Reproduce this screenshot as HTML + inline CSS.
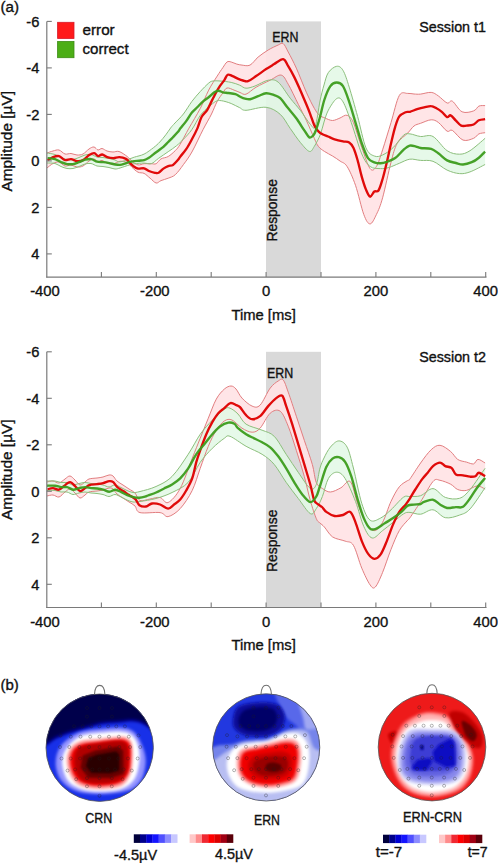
<!DOCTYPE html><html><head><meta charset="utf-8"><style>html,body{margin:0;padding:0;background:#fff;}svg{display:block;}text{stroke:#111;stroke-width:0.35px;}</style></head><body>
<svg width="498" height="863" viewBox="0 0 498 863">
<defs><filter id="b10" x="-30%" y="-30%" width="160%" height="160%"><feGaussianBlur stdDeviation="9"/></filter><filter id="b6" x="-30%" y="-30%" width="160%" height="160%"><feGaussianBlur stdDeviation="4.5"/></filter><filter id="b8" x="-30%" y="-30%" width="160%" height="160%"><feGaussianBlur stdDeviation="7"/></filter></defs>
<rect width="498" height="863" fill="#fff"/>
<text x="0.5" y="11.9" font-size="15.2" font-family="Liberation Sans, sans-serif" fill="#111">(a)</text>
<rect x="266" y="21.4" width="55" height="255.7" fill="#d9d9d9"/>
<path d="M47.0,153.0 C48.0,152.7 51.0,151.5 53.0,151.0 C55.0,150.5 57.0,149.5 59.0,150.0 C61.0,150.5 63.0,153.4 65.0,154.0 C67.0,154.6 69.0,153.3 71.0,153.5 C73.0,153.7 75.0,154.9 77.0,155.0 C79.0,155.1 81.0,155.0 83.0,154.0 C85.0,153.0 87.2,150.2 89.0,149.0 C90.8,147.8 92.5,146.8 94.0,147.0 C95.5,147.2 96.7,149.8 98.0,150.0 C99.3,150.2 100.5,148.3 102.0,148.5 C103.5,148.7 105.2,150.4 107.0,151.0 C108.8,151.6 111.0,151.9 113.0,152.0 C115.0,152.1 116.6,150.8 119.0,151.5 C121.4,152.2 125.0,154.9 127.2,156.5 C129.4,158.1 130.2,159.9 132.0,161.3 C133.8,162.7 136.0,164.5 138.0,164.9 C140.0,165.3 141.9,163.9 144.1,163.7 C146.3,163.5 149.3,163.7 151.3,163.7 C153.3,163.7 154.5,164.5 156.1,163.7 C157.7,162.9 159.0,160.1 161.0,158.9 C163.0,157.7 165.8,157.9 168.2,156.5 C170.6,155.1 173.4,152.5 175.4,150.5 C177.4,148.5 177.7,148.2 180.0,144.5 C182.3,140.8 185.6,134.1 189.0,128.1 C192.4,122.1 197.0,114.7 200.3,108.4 C203.6,102.1 205.9,95.5 208.7,90.1 C211.5,84.7 214.8,79.8 217.2,76.1 C219.5,72.4 221.2,70.0 222.8,67.7 C224.4,65.4 225.6,63.0 227.0,62.0 C228.4,61.0 229.6,61.6 231.2,62.0 C232.8,62.4 235.0,63.6 236.8,64.1 C238.6,64.6 239.8,64.9 242.0,65.1 C244.2,65.3 247.3,66.4 250.0,65.1 C252.7,63.8 255.1,59.6 258.1,57.1 C261.1,54.6 264.9,52.0 268.2,50.0 C271.5,48.0 275.7,46.1 278.2,45.0 C280.7,43.9 281.5,42.4 283.2,43.6 C284.9,44.8 286.0,47.9 288.2,52.0 C290.4,56.1 293.3,61.4 296.3,68.1 C299.3,74.8 303.3,85.5 306.3,92.2 C309.3,98.9 312.1,104.5 314.3,108.3 C316.5,112.1 317.6,113.7 319.4,115.3 C321.2,116.9 322.8,117.1 325.0,118.0 C327.2,118.9 330.0,120.5 332.5,120.5 C335.0,120.5 337.6,118.9 340.0,118.0 C342.4,117.1 344.9,114.5 347.1,115.3 C349.3,116.1 350.9,117.2 353.4,122.6 C355.8,128.0 359.0,140.0 361.8,147.7 C364.6,155.4 367.7,165.5 370.1,168.6 C372.5,171.7 374.3,169.6 376.4,166.5 C378.5,163.4 380.2,157.1 382.6,149.8 C385.0,142.5 388.2,131.7 391.0,122.6 C393.8,113.5 396.5,100.4 399.3,95.5 C402.1,90.6 405.2,93.7 407.7,93.4 C410.1,93.2 411.9,93.9 414.0,94.0 C416.1,94.1 417.7,94.4 420.6,94.1 C423.5,93.8 428.2,92.1 431.2,92.4 C434.1,92.7 435.6,94.1 438.3,95.9 C441.0,97.7 444.8,102.1 447.1,103.0 C449.5,103.9 449.9,99.7 452.4,101.2 C454.9,102.7 458.6,110.2 462.1,111.8 C465.6,113.4 470.8,111.9 473.6,110.9 C476.4,110.0 477.0,107.0 478.9,106.1 C480.8,105.2 484.1,105.7 485.1,105.6 L485.1,132.7 C484.1,132.9 480.8,133.0 478.9,133.9 C477.0,134.8 476.2,137.3 473.6,138.3 C471.0,139.3 466.5,141.4 463.0,140.1 C459.5,138.8 455.0,131.9 452.4,130.4 C449.8,128.9 449.5,132.5 447.1,131.2 C444.8,129.9 441.0,124.3 438.3,122.4 C435.6,120.5 434.1,119.7 431.2,119.8 C428.2,119.9 423.5,122.3 420.6,123.3 C417.7,124.3 416.1,124.4 414.0,126.0 C411.9,127.6 410.5,130.2 407.7,133.1 C404.9,136.0 400.0,138.6 397.2,143.5 C394.4,148.4 393.4,153.2 391.0,162.3 C388.6,171.4 385.0,189.1 382.6,197.8 C380.2,206.5 378.5,210.2 376.4,214.5 C374.3,218.8 372.2,223.9 370.1,223.9 C368.0,223.9 366.2,220.9 363.8,214.5 C361.4,208.1 358.3,193.3 355.5,185.3 C352.7,177.3 349.7,170.6 347.1,166.5 C344.5,162.4 342.4,162.8 340.0,161.0 C337.6,159.2 335.1,157.6 332.5,156.0 C329.9,154.4 326.8,153.0 324.4,151.4 C322.0,149.8 320.1,148.6 318.4,146.4 C316.7,144.2 316.3,142.8 314.3,138.4 C312.3,134.1 309.0,126.0 306.3,120.3 C303.6,114.6 301.3,110.3 298.3,104.3 C295.3,98.3 291.1,89.1 288.2,84.2 C285.3,79.3 284.2,75.8 281.2,75.1 C278.2,74.4 274.4,78.2 270.2,80.2 C266.0,82.2 260.1,84.9 256.1,87.2 C252.1,89.5 248.7,93.3 246.0,94.2 C243.3,95.1 242.0,93.2 240.0,92.5 C238.0,91.8 236.2,90.8 234.0,90.1 C231.8,89.3 228.9,87.5 227.0,88.0 C225.1,88.5 224.4,90.8 222.8,93.0 C221.2,95.2 219.1,97.9 217.2,101.4 C215.3,104.9 213.8,109.3 211.5,114.0 C209.2,118.7 206.4,123.2 203.1,129.5 C199.8,135.8 195.2,146.2 191.9,152.0 C188.6,157.8 186.2,160.8 183.4,164.6 C180.7,168.4 177.9,172.3 175.4,174.6 C172.9,176.9 170.6,177.2 168.2,178.2 C165.8,179.2 163.0,179.8 161.0,180.6 C159.0,181.4 157.9,183.4 156.1,183.0 C154.3,182.6 152.1,179.8 150.1,178.2 C148.1,176.6 146.1,174.4 144.1,173.4 C142.1,172.4 140.0,173.2 138.0,172.2 C136.0,171.2 133.8,168.9 132.0,167.3 C130.2,165.7 129.2,163.5 127.2,162.5 C125.2,161.5 122.4,161.1 120.0,161.3 C117.6,161.6 115.2,163.7 113.0,164.0 C110.8,164.3 108.8,163.6 107.0,163.0 C105.2,162.4 103.5,160.7 102.0,160.5 C100.5,160.3 99.3,162.2 98.0,162.0 C96.7,161.8 95.5,159.2 94.0,159.0 C92.5,158.8 90.8,159.8 89.0,161.0 C87.2,162.2 85.0,165.0 83.0,166.0 C81.0,167.0 79.0,167.2 77.0,167.0 C75.0,166.8 73.0,165.2 71.0,165.0 C69.0,164.8 67.0,166.5 65.0,166.0 C63.0,165.5 61.0,162.4 59.0,162.0 C57.0,161.6 55.0,162.5 53.0,163.5 C51.0,164.5 48.0,167.2 47.0,168.0 Z" fill="#ffe2e4" fill-opacity="0.9"/>
<path d="M47.0,153.0 C48.3,153.2 52.7,153.8 55.0,154.5 C57.3,155.2 59.0,156.7 61.0,157.5 C63.0,158.3 65.0,159.2 67.0,159.5 C69.0,159.8 71.0,159.8 73.0,159.5 C75.0,159.2 77.0,158.2 79.0,157.5 C81.0,156.8 83.0,155.5 85.0,155.0 C87.0,154.5 89.0,154.2 91.0,154.5 C93.0,154.8 95.0,156.5 97.0,157.0 C99.0,157.5 101.0,157.2 103.0,157.5 C105.0,157.8 107.0,158.1 109.0,158.5 C111.0,158.9 113.2,159.4 115.0,160.0 C116.8,160.6 117.6,162.1 120.0,161.9 C122.4,161.7 127.2,159.7 129.6,158.9 C132.0,158.1 132.1,157.9 134.5,157.1 C136.9,156.3 140.9,155.7 144.1,154.1 C147.3,152.5 151.1,149.5 153.7,147.5 C156.3,145.5 157.8,144.1 159.8,142.0 C161.8,139.9 164.0,137.1 165.8,134.8 C167.6,132.5 169.1,130.0 170.6,128.0 C172.1,126.0 172.9,125.3 175.0,123.0 C177.1,120.7 180.6,117.6 183.4,114.0 C186.2,110.4 189.1,105.2 191.9,101.4 C194.7,97.7 197.5,94.5 200.3,91.5 C203.1,88.5 206.6,84.8 208.7,83.1 C210.8,81.3 211.1,81.3 213.0,81.0 C214.9,80.7 217.0,80.8 220.0,81.0 C223.0,81.2 227.9,81.7 231.2,82.4 C234.5,83.1 237.2,84.2 239.7,85.2 C242.2,86.2 243.4,88.1 246.0,88.2 C248.6,88.3 251.3,87.3 255.0,86.0 C258.7,84.7 264.3,80.8 268.2,80.2 C272.1,79.6 274.5,79.2 278.2,82.2 C281.9,85.2 286.5,93.5 290.2,98.2 C293.9,102.9 296.9,106.0 300.3,110.3 C303.7,114.6 307.8,121.6 310.3,124.3 C312.8,127.0 313.7,130.2 315.3,126.3 C316.9,122.4 318.6,107.9 320.0,101.0 C321.4,94.1 322.6,89.8 324.0,85.0 C325.4,80.2 326.3,75.6 328.4,72.5 C330.5,69.4 334.3,66.6 336.7,66.3 C339.1,66.0 340.9,66.9 343.0,70.4 C345.1,73.9 346.8,79.4 349.2,87.1 C351.6,94.8 354.8,106.3 357.6,116.4 C360.4,126.5 363.1,141.1 365.9,147.7 C368.7,154.3 371.5,154.8 374.3,156.0 C377.1,157.2 379.5,156.4 382.6,155.0 C385.7,153.6 389.6,151.0 393.1,147.7 C396.6,144.4 400.7,137.5 403.5,135.2 C406.3,132.9 407.1,133.7 410.0,133.9 C412.9,134.1 416.8,136.1 420.6,136.5 C424.4,136.9 428.6,134.1 433.0,136.5 C437.4,138.9 442.7,147.8 447.1,150.7 C451.5,153.6 455.7,154.2 459.5,154.2 C463.3,154.2 465.7,153.3 470.0,150.7 C474.3,148.0 482.6,140.4 485.1,138.3 L485.1,164.5 C482.6,165.7 474.3,170.4 470.0,171.9 C465.7,173.4 463.3,173.9 459.5,173.6 C455.7,173.3 451.5,172.1 447.1,170.1 C442.7,168.1 437.4,162.9 433.0,161.3 C428.6,159.7 424.5,160.8 420.6,160.4 C416.7,160.1 413.4,158.7 409.8,159.2 C406.2,159.7 402.8,161.9 399.3,163.3 C395.8,164.7 392.0,166.6 388.9,167.5 C385.8,168.4 383.6,168.8 380.5,168.6 C377.4,168.4 373.2,168.9 370.1,166.5 C367.0,164.1 364.9,161.3 361.8,154.0 C358.7,146.7 354.4,131.3 351.3,122.6 C348.2,113.9 345.4,105.8 343.0,101.8 C340.6,97.8 339.1,97.2 336.7,98.6 C334.3,100.0 330.5,106.2 328.4,110.1 C326.3,114.0 325.3,118.0 324.0,122.0 C322.7,126.0 322.0,130.3 320.4,134.4 C318.8,138.5 316.1,143.6 314.3,146.4 C312.5,149.2 311.6,152.1 309.3,151.4 C307.0,150.7 303.5,146.2 300.3,142.4 C297.1,138.6 293.6,133.1 290.2,128.4 C286.8,123.7 284.2,117.8 280.2,114.3 C276.2,110.8 271.8,108.0 266.1,107.3 C260.4,106.6 250.4,110.2 246.0,110.3 C241.6,110.4 242.2,108.8 239.7,107.7 C237.2,106.6 234.2,104.7 231.2,103.5 C228.1,102.3 224.0,101.0 221.4,100.7 C218.8,100.4 217.9,100.4 215.8,101.4 C213.7,102.5 211.3,104.7 208.7,107.0 C206.1,109.3 203.1,111.7 200.3,115.4 C197.5,119.2 194.7,125.5 191.9,129.5 C189.1,133.5 186.0,136.6 183.4,139.3 C180.8,142.0 179.1,143.6 176.6,145.7 C174.1,147.8 171.2,149.6 168.2,151.7 C165.2,153.8 161.4,156.3 158.6,158.3 C155.8,160.3 153.7,162.9 151.3,163.7 C148.9,164.5 146.9,163.1 144.1,163.1 C141.3,163.1 136.9,163.4 134.5,163.7 C132.1,164.0 132.0,164.2 129.6,164.9 C127.2,165.6 122.4,167.3 120.0,168.0 C117.6,168.7 116.8,169.1 115.0,169.0 C113.2,168.9 111.0,167.9 109.0,167.5 C107.0,167.1 105.0,166.8 103.0,166.5 C101.0,166.2 99.0,166.5 97.0,166.0 C95.0,165.5 93.0,163.8 91.0,163.5 C89.0,163.2 87.0,163.5 85.0,164.0 C83.0,164.5 81.0,165.8 79.0,166.5 C77.0,167.2 75.0,168.2 73.0,168.5 C71.0,168.8 69.0,168.8 67.0,168.5 C65.0,168.2 63.0,167.3 61.0,166.5 C59.0,165.7 57.3,164.1 55.0,163.5 C52.7,162.9 48.3,163.1 47.0,163.0 Z" fill="#e2f8e6" fill-opacity="0.88"/>
<path d="M47.0,153.0 C48.0,152.7 51.0,151.5 53.0,151.0 C55.0,150.5 57.0,149.5 59.0,150.0 C61.0,150.5 63.0,153.4 65.0,154.0 C67.0,154.6 69.0,153.3 71.0,153.5 C73.0,153.7 75.0,154.9 77.0,155.0 C79.0,155.1 81.0,155.0 83.0,154.0 C85.0,153.0 87.2,150.2 89.0,149.0 C90.8,147.8 92.5,146.8 94.0,147.0 C95.5,147.2 96.7,149.8 98.0,150.0 C99.3,150.2 100.5,148.3 102.0,148.5 C103.5,148.7 105.2,150.4 107.0,151.0 C108.8,151.6 111.0,151.9 113.0,152.0 C115.0,152.1 116.6,150.8 119.0,151.5 C121.4,152.2 125.0,154.9 127.2,156.5 C129.4,158.1 130.2,159.9 132.0,161.3 C133.8,162.7 136.0,164.5 138.0,164.9 C140.0,165.3 141.9,163.9 144.1,163.7 C146.3,163.5 149.3,163.7 151.3,163.7 C153.3,163.7 154.5,164.5 156.1,163.7 C157.7,162.9 159.0,160.1 161.0,158.9 C163.0,157.7 165.8,157.9 168.2,156.5 C170.6,155.1 173.4,152.5 175.4,150.5 C177.4,148.5 177.7,148.2 180.0,144.5 C182.3,140.8 185.6,134.1 189.0,128.1 C192.4,122.1 197.0,114.7 200.3,108.4 C203.6,102.1 205.9,95.5 208.7,90.1 C211.5,84.7 214.8,79.8 217.2,76.1 C219.5,72.4 221.2,70.0 222.8,67.7 C224.4,65.4 225.6,63.0 227.0,62.0 C228.4,61.0 229.6,61.6 231.2,62.0 C232.8,62.4 235.0,63.6 236.8,64.1 C238.6,64.6 239.8,64.9 242.0,65.1 C244.2,65.3 247.3,66.4 250.0,65.1 C252.7,63.8 255.1,59.6 258.1,57.1 C261.1,54.6 264.9,52.0 268.2,50.0 C271.5,48.0 275.7,46.1 278.2,45.0 C280.7,43.9 281.5,42.4 283.2,43.6 C284.9,44.8 286.0,47.9 288.2,52.0 C290.4,56.1 293.3,61.4 296.3,68.1 C299.3,74.8 303.3,85.5 306.3,92.2 C309.3,98.9 312.1,104.5 314.3,108.3 C316.5,112.1 317.6,113.7 319.4,115.3 C321.2,116.9 322.8,117.1 325.0,118.0 C327.2,118.9 330.0,120.5 332.5,120.5 C335.0,120.5 337.6,118.9 340.0,118.0 C342.4,117.1 344.9,114.5 347.1,115.3 C349.3,116.1 350.9,117.2 353.4,122.6 C355.8,128.0 359.0,140.0 361.8,147.7 C364.6,155.4 367.7,165.5 370.1,168.6 C372.5,171.7 374.3,169.6 376.4,166.5 C378.5,163.4 380.2,157.1 382.6,149.8 C385.0,142.5 388.2,131.7 391.0,122.6 C393.8,113.5 396.5,100.4 399.3,95.5 C402.1,90.6 405.2,93.7 407.7,93.4 C410.1,93.2 411.9,93.9 414.0,94.0 C416.1,94.1 417.7,94.4 420.6,94.1 C423.5,93.8 428.2,92.1 431.2,92.4 C434.1,92.7 435.6,94.1 438.3,95.9 C441.0,97.7 444.8,102.1 447.1,103.0 C449.5,103.9 449.9,99.7 452.4,101.2 C454.9,102.7 458.6,110.2 462.1,111.8 C465.6,113.4 470.8,111.9 473.6,110.9 C476.4,110.0 477.0,107.0 478.9,106.1 C480.8,105.2 484.1,105.7 485.1,105.6" fill="none" stroke="#e27e80" stroke-width="1"/>
<path d="M47.0,168.0 C48.0,167.2 51.0,164.5 53.0,163.5 C55.0,162.5 57.0,161.6 59.0,162.0 C61.0,162.4 63.0,165.5 65.0,166.0 C67.0,166.5 69.0,164.8 71.0,165.0 C73.0,165.2 75.0,166.8 77.0,167.0 C79.0,167.2 81.0,167.0 83.0,166.0 C85.0,165.0 87.2,162.2 89.0,161.0 C90.8,159.8 92.5,158.8 94.0,159.0 C95.5,159.2 96.7,161.8 98.0,162.0 C99.3,162.2 100.5,160.3 102.0,160.5 C103.5,160.7 105.2,162.4 107.0,163.0 C108.8,163.6 110.8,164.3 113.0,164.0 C115.2,163.7 117.6,161.6 120.0,161.3 C122.4,161.1 125.2,161.5 127.2,162.5 C129.2,163.5 130.2,165.7 132.0,167.3 C133.8,168.9 136.0,171.2 138.0,172.2 C140.0,173.2 142.1,172.4 144.1,173.4 C146.1,174.4 148.1,176.6 150.1,178.2 C152.1,179.8 154.3,182.6 156.1,183.0 C157.9,183.4 159.0,181.4 161.0,180.6 C163.0,179.8 165.8,179.2 168.2,178.2 C170.6,177.2 172.9,176.9 175.4,174.6 C177.9,172.3 180.7,168.4 183.4,164.6 C186.2,160.8 188.6,157.8 191.9,152.0 C195.2,146.2 199.8,135.8 203.1,129.5 C206.4,123.2 209.2,118.7 211.5,114.0 C213.8,109.3 215.3,104.9 217.2,101.4 C219.1,97.9 221.2,95.2 222.8,93.0 C224.4,90.8 225.1,88.5 227.0,88.0 C228.9,87.5 231.8,89.3 234.0,90.1 C236.2,90.8 238.0,91.8 240.0,92.5 C242.0,93.2 243.3,95.1 246.0,94.2 C248.7,93.3 252.1,89.5 256.1,87.2 C260.1,84.9 266.0,82.2 270.2,80.2 C274.4,78.2 278.2,74.4 281.2,75.1 C284.2,75.8 285.3,79.3 288.2,84.2 C291.1,89.1 295.3,98.3 298.3,104.3 C301.3,110.3 303.6,114.6 306.3,120.3 C309.0,126.0 312.3,134.1 314.3,138.4 C316.3,142.8 316.7,144.2 318.4,146.4 C320.1,148.6 322.0,149.8 324.4,151.4 C326.8,153.0 329.9,154.4 332.5,156.0 C335.1,157.6 337.6,159.2 340.0,161.0 C342.4,162.8 344.5,162.4 347.1,166.5 C349.7,170.6 352.7,177.3 355.5,185.3 C358.3,193.3 361.4,208.1 363.8,214.5 C366.2,220.9 368.0,223.9 370.1,223.9 C372.2,223.9 374.3,218.8 376.4,214.5 C378.5,210.2 380.2,206.5 382.6,197.8 C385.0,189.1 388.6,171.4 391.0,162.3 C393.4,153.2 394.4,148.4 397.2,143.5 C400.0,138.6 404.9,136.0 407.7,133.1 C410.5,130.2 411.9,127.6 414.0,126.0 C416.1,124.4 417.7,124.3 420.6,123.3 C423.5,122.3 428.2,119.9 431.2,119.8 C434.1,119.7 435.6,120.5 438.3,122.4 C441.0,124.3 444.8,129.9 447.1,131.2 C449.5,132.5 449.8,128.9 452.4,130.4 C455.0,131.9 459.5,138.8 463.0,140.1 C466.5,141.4 471.0,139.3 473.6,138.3 C476.2,137.3 477.0,134.8 478.9,133.9 C480.8,133.0 484.1,132.9 485.1,132.7" fill="none" stroke="#e27e80" stroke-width="1"/>
<path d="M47.0,153.0 C48.3,153.2 52.7,153.8 55.0,154.5 C57.3,155.2 59.0,156.7 61.0,157.5 C63.0,158.3 65.0,159.2 67.0,159.5 C69.0,159.8 71.0,159.8 73.0,159.5 C75.0,159.2 77.0,158.2 79.0,157.5 C81.0,156.8 83.0,155.5 85.0,155.0 C87.0,154.5 89.0,154.2 91.0,154.5 C93.0,154.8 95.0,156.5 97.0,157.0 C99.0,157.5 101.0,157.2 103.0,157.5 C105.0,157.8 107.0,158.1 109.0,158.5 C111.0,158.9 113.2,159.4 115.0,160.0 C116.8,160.6 117.6,162.1 120.0,161.9 C122.4,161.7 127.2,159.7 129.6,158.9 C132.0,158.1 132.1,157.9 134.5,157.1 C136.9,156.3 140.9,155.7 144.1,154.1 C147.3,152.5 151.1,149.5 153.7,147.5 C156.3,145.5 157.8,144.1 159.8,142.0 C161.8,139.9 164.0,137.1 165.8,134.8 C167.6,132.5 169.1,130.0 170.6,128.0 C172.1,126.0 172.9,125.3 175.0,123.0 C177.1,120.7 180.6,117.6 183.4,114.0 C186.2,110.4 189.1,105.2 191.9,101.4 C194.7,97.7 197.5,94.5 200.3,91.5 C203.1,88.5 206.6,84.8 208.7,83.1 C210.8,81.3 211.1,81.3 213.0,81.0 C214.9,80.7 217.0,80.8 220.0,81.0 C223.0,81.2 227.9,81.7 231.2,82.4 C234.5,83.1 237.2,84.2 239.7,85.2 C242.2,86.2 243.4,88.1 246.0,88.2 C248.6,88.3 251.3,87.3 255.0,86.0 C258.7,84.7 264.3,80.8 268.2,80.2 C272.1,79.6 274.5,79.2 278.2,82.2 C281.9,85.2 286.5,93.5 290.2,98.2 C293.9,102.9 296.9,106.0 300.3,110.3 C303.7,114.6 307.8,121.6 310.3,124.3 C312.8,127.0 313.7,130.2 315.3,126.3 C316.9,122.4 318.6,107.9 320.0,101.0 C321.4,94.1 322.6,89.8 324.0,85.0 C325.4,80.2 326.3,75.6 328.4,72.5 C330.5,69.4 334.3,66.6 336.7,66.3 C339.1,66.0 340.9,66.9 343.0,70.4 C345.1,73.9 346.8,79.4 349.2,87.1 C351.6,94.8 354.8,106.3 357.6,116.4 C360.4,126.5 363.1,141.1 365.9,147.7 C368.7,154.3 371.5,154.8 374.3,156.0 C377.1,157.2 379.5,156.4 382.6,155.0 C385.7,153.6 389.6,151.0 393.1,147.7 C396.6,144.4 400.7,137.5 403.5,135.2 C406.3,132.9 407.1,133.7 410.0,133.9 C412.9,134.1 416.8,136.1 420.6,136.5 C424.4,136.9 428.6,134.1 433.0,136.5 C437.4,138.9 442.7,147.8 447.1,150.7 C451.5,153.6 455.7,154.2 459.5,154.2 C463.3,154.2 465.7,153.3 470.0,150.7 C474.3,148.0 482.6,140.4 485.1,138.3" fill="none" stroke="#8cbf7c" stroke-width="1"/>
<path d="M47.0,163.0 C48.3,163.1 52.7,162.9 55.0,163.5 C57.3,164.1 59.0,165.7 61.0,166.5 C63.0,167.3 65.0,168.2 67.0,168.5 C69.0,168.8 71.0,168.8 73.0,168.5 C75.0,168.2 77.0,167.2 79.0,166.5 C81.0,165.8 83.0,164.5 85.0,164.0 C87.0,163.5 89.0,163.2 91.0,163.5 C93.0,163.8 95.0,165.5 97.0,166.0 C99.0,166.5 101.0,166.2 103.0,166.5 C105.0,166.8 107.0,167.1 109.0,167.5 C111.0,167.9 113.2,168.9 115.0,169.0 C116.8,169.1 117.6,168.7 120.0,168.0 C122.4,167.3 127.2,165.6 129.6,164.9 C132.0,164.2 132.1,164.0 134.5,163.7 C136.9,163.4 141.3,163.1 144.1,163.1 C146.9,163.1 148.9,164.5 151.3,163.7 C153.7,162.9 155.8,160.3 158.6,158.3 C161.4,156.3 165.2,153.8 168.2,151.7 C171.2,149.6 174.1,147.8 176.6,145.7 C179.1,143.6 180.8,142.0 183.4,139.3 C186.0,136.6 189.1,133.5 191.9,129.5 C194.7,125.5 197.5,119.2 200.3,115.4 C203.1,111.7 206.1,109.3 208.7,107.0 C211.3,104.7 213.7,102.5 215.8,101.4 C217.9,100.4 218.8,100.4 221.4,100.7 C224.0,101.0 228.1,102.3 231.2,103.5 C234.2,104.7 237.2,106.6 239.7,107.7 C242.2,108.8 241.6,110.4 246.0,110.3 C250.4,110.2 260.4,106.6 266.1,107.3 C271.8,108.0 276.2,110.8 280.2,114.3 C284.2,117.8 286.8,123.7 290.2,128.4 C293.6,133.1 297.1,138.6 300.3,142.4 C303.5,146.2 307.0,150.7 309.3,151.4 C311.6,152.1 312.5,149.2 314.3,146.4 C316.1,143.6 318.8,138.5 320.4,134.4 C322.0,130.3 322.7,126.0 324.0,122.0 C325.3,118.0 326.3,114.0 328.4,110.1 C330.5,106.2 334.3,100.0 336.7,98.6 C339.1,97.2 340.6,97.8 343.0,101.8 C345.4,105.8 348.2,113.9 351.3,122.6 C354.4,131.3 358.7,146.7 361.8,154.0 C364.9,161.3 367.0,164.1 370.1,166.5 C373.2,168.9 377.4,168.4 380.5,168.6 C383.6,168.8 385.8,168.4 388.9,167.5 C392.0,166.6 395.8,164.7 399.3,163.3 C402.8,161.9 406.2,159.7 409.8,159.2 C413.4,158.7 416.7,160.1 420.6,160.4 C424.5,160.8 428.6,159.7 433.0,161.3 C437.4,162.9 442.7,168.1 447.1,170.1 C451.5,172.1 455.7,173.3 459.5,173.6 C463.3,173.9 465.7,173.4 470.0,171.9 C474.3,170.4 482.6,165.7 485.1,164.5" fill="none" stroke="#8cbf7c" stroke-width="1"/>
<path d="M47.5,160.3 C48.4,159.8 51.1,157.8 53.0,157.1 C54.9,156.4 57.0,155.6 59.0,156.1 C61.0,156.6 63.0,159.6 65.0,160.1 C67.0,160.6 69.0,158.9 71.0,159.1 C73.0,159.3 75.0,160.9 77.0,161.1 C79.0,161.3 81.0,161.1 83.0,160.1 C85.0,159.1 87.3,156.3 89.2,155.1 C91.1,153.9 92.7,152.9 94.2,153.1 C95.7,153.3 96.9,155.9 98.2,156.1 C99.5,156.3 100.7,154.3 102.2,154.5 C103.7,154.7 105.4,156.5 107.2,157.1 C109.0,157.7 111.3,158.1 113.3,158.1 C115.3,158.1 117.2,157.0 119.3,157.1 C121.4,157.2 124.3,158.0 126.0,158.9 C127.7,159.8 128.4,161.3 129.6,162.5 C130.8,163.7 131.9,165.1 133.3,166.1 C134.7,167.1 136.2,168.2 138.0,168.6 C139.8,169.0 142.3,167.9 144.1,168.3 C145.9,168.7 147.1,170.2 148.9,171.0 C150.7,171.8 153.3,172.5 154.9,172.8 C156.5,173.1 157.2,173.5 158.6,172.8 C160.0,172.1 161.8,169.7 163.4,168.6 C165.0,167.5 166.6,166.7 168.2,166.1 C169.8,165.5 171.4,165.9 173.0,164.9 C174.6,163.9 176.5,161.6 177.8,160.1 C179.1,158.6 179.2,158.0 180.6,156.2 C182.0,154.4 184.3,152.0 186.2,149.2 C188.1,146.4 190.0,142.8 191.9,139.3 C193.8,135.8 195.9,131.8 197.5,128.1 C199.1,124.3 200.1,119.8 201.7,116.8 C203.3,113.8 205.7,112.4 207.3,109.8 C208.9,107.2 210.1,104.2 211.5,101.4 C212.9,98.6 214.4,95.6 215.8,93.0 C217.2,90.4 218.6,88.0 220.0,85.9 C221.4,83.8 222.9,82.2 224.2,80.3 C225.5,78.4 226.3,75.4 227.7,74.7 C229.1,74.0 230.8,75.4 232.6,76.1 C234.4,76.8 236.6,78.2 238.3,78.9 C240.0,79.6 241.4,80.1 243.0,80.5 C244.6,80.9 245.8,81.9 248.0,81.2 C250.2,80.5 253.1,78.1 256.1,76.1 C259.1,74.1 263.1,71.1 266.1,69.1 C269.1,67.1 271.4,65.8 274.2,64.1 C277.0,62.4 280.9,58.8 283.2,59.1 C285.5,59.4 286.3,63.1 288.2,66.1 C290.1,69.1 292.3,73.1 294.3,77.1 C296.3,81.1 298.3,85.7 300.3,90.2 C302.3,94.7 304.6,100.3 306.3,104.3 C308.0,108.3 309.0,110.8 310.3,114.3 C311.6,117.8 313.0,122.4 314.3,125.3 C315.6,128.2 316.9,129.9 318.4,131.4 C319.8,132.9 321.4,133.7 323.0,134.5 C324.6,135.3 326.1,135.7 328.0,136.5 C329.9,137.3 332.1,138.5 334.6,139.3 C337.1,140.1 340.6,140.9 343.0,141.4 C345.4,141.9 347.5,141.4 349.2,142.5 C350.9,143.6 352.0,144.8 353.4,147.7 C354.8,150.6 356.2,155.3 357.6,160.2 C359.0,165.1 360.4,172.0 361.8,176.9 C363.2,181.8 364.5,186.1 365.9,189.4 C367.3,192.7 368.7,196.3 370.1,196.7 C371.5,197.0 372.9,192.5 374.3,191.5 C375.7,190.5 377.1,192.6 378.5,190.5 C379.9,188.4 381.2,183.7 382.6,179.0 C384.0,174.3 385.4,168.2 386.8,162.3 C388.2,156.4 389.6,149.4 391.0,143.5 C392.4,137.6 393.8,131.3 395.2,126.8 C396.6,122.3 397.6,118.8 399.3,116.4 C401.0,114.0 403.8,113.0 405.6,112.2 C407.4,111.4 408.1,112.3 410.0,111.8 C411.9,111.3 414.8,109.9 417.1,109.2 C419.5,108.5 421.8,107.9 424.1,107.4 C426.5,106.9 429.1,105.9 431.2,106.1 C433.3,106.2 434.7,107.3 436.5,108.3 C438.3,109.2 440.0,110.3 441.8,111.8 C443.6,113.3 445.6,116.5 447.1,117.1 C448.6,117.7 449.1,114.7 450.6,115.3 C452.1,115.9 454.1,118.9 455.9,120.6 C457.7,122.3 459.4,124.8 461.2,125.6 C463.0,126.4 464.4,125.8 466.5,125.6 C468.6,125.4 471.5,125.4 473.6,124.5 C475.7,123.6 477.0,121.2 478.9,120.3 C480.8,119.4 484.1,119.4 485.1,119.2" fill="none" stroke="#e00a0a" stroke-width="2.35" stroke-linejoin="round"/>
<path d="M47.5,158.1 C48.8,158.2 52.8,158.4 55.0,159.1 C57.2,159.8 59.0,161.3 61.0,162.1 C63.0,162.9 65.0,163.8 67.0,164.1 C69.0,164.4 71.0,164.4 73.0,164.1 C75.0,163.8 77.0,162.8 79.0,162.1 C81.0,161.4 83.2,160.2 85.2,159.7 C87.2,159.2 89.2,158.8 91.2,159.1 C93.2,159.4 95.2,161.2 97.2,161.7 C99.2,162.2 101.2,161.9 103.2,162.1 C105.2,162.3 107.3,162.7 109.3,163.1 C111.3,163.5 113.5,164.2 115.3,164.5 C117.1,164.8 118.4,165.0 120.0,164.9 C121.6,164.8 123.2,164.2 124.8,163.7 C126.4,163.2 128.0,162.3 129.6,161.9 C131.2,161.5 132.9,161.3 134.5,161.1 C136.1,160.9 137.7,160.9 139.3,160.7 C140.9,160.5 142.5,160.6 144.1,160.1 C145.7,159.6 147.3,158.7 148.9,157.7 C150.5,156.7 152.1,155.3 153.7,154.1 C155.3,152.9 157.0,151.7 158.6,150.5 C160.2,149.3 161.8,148.3 163.4,146.9 C165.0,145.5 166.6,143.6 168.2,142.0 C169.8,140.4 171.4,138.9 173.0,137.2 C174.6,135.5 176.5,133.5 177.8,132.0 C179.1,130.5 179.2,129.9 180.6,128.1 C182.0,126.3 184.3,123.7 186.2,121.1 C188.1,118.5 190.0,114.9 191.9,112.6 C193.8,110.2 195.6,108.9 197.5,107.0 C199.4,105.1 201.2,103.0 203.1,101.4 C205.0,99.8 206.8,98.7 208.7,97.2 C210.6,95.7 212.8,93.4 214.4,92.3 C216.1,91.2 217.2,90.8 218.6,90.8 C220.0,90.8 221.2,91.9 222.8,92.3 C224.4,92.7 226.3,92.7 228.4,93.0 C230.5,93.3 233.3,93.4 235.4,94.1 C237.5,94.8 239.5,96.5 241.1,97.2 C242.7,98.0 243.5,98.3 245.0,98.6 C246.5,98.9 247.9,99.6 250.1,99.2 C252.3,98.8 255.4,97.2 258.1,96.2 C260.8,95.2 263.4,93.4 266.1,93.2 C268.8,93.0 271.9,94.4 274.2,95.2 C276.5,96.0 277.9,96.0 280.2,98.2 C282.5,100.4 285.5,105.0 288.2,108.3 C290.9,111.6 293.6,114.6 296.3,118.3 C299.0,122.0 302.1,127.2 304.3,130.4 C306.5,133.6 307.8,136.6 309.3,137.4 C310.8,138.2 312.2,136.6 313.3,135.4 C314.4,134.2 314.9,133.1 316.0,130.0 C317.1,126.9 318.6,122.0 320.0,117.0 C321.4,112.0 322.6,105.2 324.3,100.0 C326.0,94.8 328.3,89.0 330.4,86.1 C332.5,83.2 334.6,82.5 336.7,82.5 C338.8,82.5 340.9,82.9 343.0,86.1 C345.1,89.3 347.1,95.7 349.2,101.8 C351.3,107.9 353.4,115.6 355.5,122.6 C357.6,129.5 359.7,137.6 361.8,143.5 C363.9,149.4 365.9,155.0 368.0,158.1 C370.1,161.2 372.2,161.4 374.3,162.3 C376.4,163.2 378.4,163.4 380.5,163.3 C382.6,163.2 384.4,162.8 386.8,161.9 C389.2,161.0 392.4,160.1 395.2,158.1 C398.0,156.1 401.1,151.9 403.5,149.8 C405.9,147.7 407.7,146.1 409.8,145.6 C411.9,145.1 414.2,146.2 416.0,146.6 C417.8,147.0 418.1,147.6 420.6,148.0 C423.1,148.4 428.2,148.0 431.2,148.9 C434.1,149.8 435.6,151.4 438.3,153.3 C441.0,155.2 444.2,158.8 447.1,160.4 C450.0,162.0 453.2,162.3 455.9,163.0 C458.5,163.7 460.4,164.6 463.0,164.5 C465.6,164.4 469.2,163.3 471.8,162.2 C474.4,161.1 476.7,159.5 478.9,157.7 C481.1,155.9 484.1,152.6 485.1,151.6" fill="none" stroke="#3c9c1c" stroke-width="2.4" stroke-linejoin="round" opacity="0.95"/>
<line x1="46.8" y1="21.4" x2="46.8" y2="277.6" stroke="#7a7a7a" stroke-width="1.2"/>
<line x1="46.199999999999996" y1="277.1" x2="486.5" y2="277.1" stroke="#7a7a7a" stroke-width="1.2"/>
<line x1="46.8" y1="21.4" x2="51.8" y2="21.4" stroke="#7a7a7a" stroke-width="1.1"/>
<text x="39.4" y="26.7" text-anchor="end" font-size="14.7" font-family="Liberation Sans, sans-serif" fill="#111">-6</text>
<line x1="46.8" y1="67.9" x2="51.8" y2="67.9" stroke="#7a7a7a" stroke-width="1.1"/>
<text x="39.4" y="73.2" text-anchor="end" font-size="14.7" font-family="Liberation Sans, sans-serif" fill="#111">-4</text>
<line x1="46.8" y1="114.4" x2="51.8" y2="114.4" stroke="#7a7a7a" stroke-width="1.1"/>
<text x="39.4" y="119.7" text-anchor="end" font-size="14.7" font-family="Liberation Sans, sans-serif" fill="#111">-2</text>
<line x1="46.8" y1="160.9" x2="51.8" y2="160.9" stroke="#7a7a7a" stroke-width="1.1"/>
<text x="39.4" y="166.2" text-anchor="end" font-size="14.7" font-family="Liberation Sans, sans-serif" fill="#111">0</text>
<line x1="46.8" y1="207.4" x2="51.8" y2="207.4" stroke="#7a7a7a" stroke-width="1.1"/>
<text x="39.4" y="212.7" text-anchor="end" font-size="14.7" font-family="Liberation Sans, sans-serif" fill="#111">2</text>
<line x1="46.8" y1="253.9" x2="51.8" y2="253.9" stroke="#7a7a7a" stroke-width="1.1"/>
<text x="39.4" y="259.2" text-anchor="end" font-size="14.7" font-family="Liberation Sans, sans-serif" fill="#111">4</text>
<text x="45.0" y="296.1" text-anchor="middle" font-size="14.8" font-family="Liberation Sans, sans-serif" fill="#111">-400</text>
<line x1="101.4" y1="277.1" x2="101.4" y2="272.1" stroke="#7a7a7a" stroke-width="1.1"/>
<line x1="156.3" y1="277.1" x2="156.3" y2="272.1" stroke="#7a7a7a" stroke-width="1.1"/>
<text x="154.8" y="296.1" text-anchor="middle" font-size="14.8" font-family="Liberation Sans, sans-serif" fill="#111">-200</text>
<line x1="211.2" y1="277.1" x2="211.2" y2="272.1" stroke="#7a7a7a" stroke-width="1.1"/>
<line x1="266.1" y1="277.1" x2="266.1" y2="272.1" stroke="#7a7a7a" stroke-width="1.1"/>
<text x="266.1" y="296.1" text-anchor="middle" font-size="14.8" font-family="Liberation Sans, sans-serif" fill="#111">0</text>
<line x1="321.0" y1="277.1" x2="321.0" y2="272.1" stroke="#7a7a7a" stroke-width="1.1"/>
<line x1="375.9" y1="277.1" x2="375.9" y2="272.1" stroke="#7a7a7a" stroke-width="1.1"/>
<text x="375.9" y="296.1" text-anchor="middle" font-size="14.8" font-family="Liberation Sans, sans-serif" fill="#111">200</text>
<line x1="430.8" y1="277.1" x2="430.8" y2="272.1" stroke="#7a7a7a" stroke-width="1.1"/>
<line x1="485.7" y1="277.1" x2="485.7" y2="272.1" stroke="#7a7a7a" stroke-width="1.1"/>
<text x="485.7" y="296.1" text-anchor="middle" font-size="14.8" font-family="Liberation Sans, sans-serif" fill="#111">400</text>
<text x="263.6" y="319.8" text-anchor="middle" font-size="14.8" font-family="Liberation Sans, sans-serif" fill="#111" textLength="64.3" lengthAdjust="spacingAndGlyphs">Time [ms]</text>
<text transform="translate(11.6,141.3) rotate(-90)" text-anchor="middle" font-size="15" font-family="Liberation Sans, sans-serif" fill="#111" textLength="100.6" lengthAdjust="spacingAndGlyphs">Amplitude [µV]</text>
<text x="486" y="32.0" text-anchor="end" font-size="14.2" font-family="Liberation Sans, sans-serif" fill="#111" textLength="66.8" lengthAdjust="spacingAndGlyphs">Session t1</text>
<text x="272.2" y="41.6" font-size="14" font-family="Liberation Sans, sans-serif" fill="#111" textLength="26.2" lengthAdjust="spacingAndGlyphs">ERN</text>
<text transform="translate(277,241.6) rotate(-90)" font-size="14" font-family="Liberation Sans, sans-serif" fill="#111" textLength="62.5" lengthAdjust="spacingAndGlyphs">Response</text>
<rect x="57.6" y="22.3" width="16.4" height="16.2" fill="#ff1a1a" stroke="#d81a2a" stroke-width="0.8"/>
<rect x="57.6" y="41.5" width="16.4" height="16.2" fill="#4cae16" stroke="#3c8c14" stroke-width="0.8"/>
<text x="82.5" y="35" font-size="15" font-family="Liberation Sans, sans-serif" fill="#111" textLength="32.2" lengthAdjust="spacingAndGlyphs">error</text>
<text x="82.5" y="54.2" font-size="15" font-family="Liberation Sans, sans-serif" fill="#111" textLength="46.1" lengthAdjust="spacingAndGlyphs">correct</text>
<rect x="266" y="351.8" width="55" height="255.8" fill="#d9d9d9"/>
<path d="M47.0,482.0 C48.0,481.8 51.0,480.8 53.0,481.0 C55.0,481.2 57.0,483.3 59.0,483.0 C61.0,482.7 63.2,480.2 65.0,479.0 C66.8,477.8 68.3,475.8 70.0,476.0 C71.7,476.2 73.3,478.5 75.0,480.0 C76.7,481.5 78.3,484.7 80.0,485.0 C81.7,485.3 83.5,483.0 85.0,482.0 C86.5,481.0 87.0,479.7 89.0,479.0 C91.0,478.3 94.7,478.3 97.0,478.0 C99.3,477.7 101.0,477.5 103.0,477.0 C105.0,476.5 107.3,475.2 109.0,475.0 C110.7,474.8 111.7,475.0 113.0,476.0 C114.3,477.0 115.3,479.5 117.0,481.0 C118.7,482.5 121.0,483.7 123.0,485.0 C125.0,486.3 127.0,487.7 129.0,489.0 C131.0,490.3 133.2,491.1 135.0,493.0 C136.8,494.9 137.5,499.5 140.0,500.5 C142.5,501.5 146.7,499.5 150.0,499.0 C153.3,498.5 157.1,496.9 160.1,497.5 C163.1,498.1 164.8,504.0 168.1,502.5 C171.4,501.0 176.2,495.9 180.2,488.5 C184.2,481.1 188.9,466.8 192.2,458.4 C195.5,450.0 197.5,445.0 200.2,438.3 C202.9,431.6 205.6,424.7 208.3,418.2 C211.0,411.7 213.6,404.0 216.3,399.1 C219.0,394.2 221.9,391.3 224.3,389.1 C226.8,386.9 229.1,386.0 231.0,386.0 C232.9,386.0 234.2,387.0 236.0,389.0 C237.8,391.0 239.3,395.2 242.0,398.1 C244.7,401.0 249.1,404.9 252.1,406.1 C255.1,407.3 257.1,408.1 260.1,405.1 C263.1,402.1 267.2,392.1 270.2,388.1 C273.2,384.1 276.0,382.4 278.2,381.0 C280.4,379.6 281.5,378.1 283.2,380.0 C284.9,381.9 286.0,386.1 288.2,392.1 C290.4,398.1 293.6,408.2 296.3,416.2 C299.0,424.2 301.6,432.3 304.3,440.3 C307.0,448.3 310.3,457.4 312.3,464.4 C314.3,471.4 314.6,478.5 316.3,482.5 C318.0,486.5 320.0,486.9 322.4,488.5 C324.8,490.1 327.3,492.1 330.4,492.0 C333.5,491.9 337.6,489.5 340.9,487.8 C344.2,486.1 347.5,479.0 350.3,481.6 C353.1,484.2 355.0,496.7 357.6,503.5 C360.2,510.3 363.1,517.8 365.9,522.3 C368.7,526.8 371.5,530.6 374.3,530.6 C377.1,530.6 379.8,527.2 382.6,522.3 C385.4,517.4 388.2,507.3 391.0,501.4 C393.8,495.5 396.5,490.3 399.3,486.8 C402.1,483.3 405.9,481.8 407.7,480.5 C409.5,479.2 407.9,481.8 410.0,478.9 C412.1,476.0 417.1,467.9 420.6,463.0 C424.1,458.1 428.0,452.6 431.2,449.7 C434.4,446.8 436.8,445.0 440.0,445.3 C443.2,445.6 447.7,449.1 450.6,451.5 C453.6,453.9 455.1,457.6 457.7,459.4 C460.3,461.2 463.9,461.4 466.5,462.1 C469.1,462.9 471.7,464.3 473.6,463.9 C475.5,463.4 476.1,459.5 478.0,459.4 C479.9,459.2 483.9,462.4 485.1,463.0 L485.1,489.1 C483.8,488.6 480.2,485.7 477.1,485.9 C474.0,486.1 469.7,489.8 466.5,490.4 C463.3,491.0 460.3,490.5 457.7,489.5 C455.1,488.5 453.6,485.7 450.6,484.2 C447.7,482.7 442.9,480.8 440.0,480.3 C437.1,479.9 436.2,477.9 433.0,481.5 C429.8,485.1 424.4,495.8 420.6,501.8 C416.8,507.8 412.1,514.6 410.0,517.7 C407.9,520.8 409.5,518.1 407.7,520.2 C405.9,522.4 402.1,525.7 399.3,530.6 C396.5,535.5 393.8,542.4 391.0,549.4 C388.2,556.4 385.2,566.1 382.6,572.4 C380.0,578.7 377.4,584.9 375.3,587.0 C373.2,589.1 372.4,588.0 370.1,584.9 C367.9,581.8 364.6,574.8 361.8,568.2 C359.0,561.6 356.2,549.8 353.4,545.3 C350.6,540.8 348.6,542.5 345.1,541.1 C341.6,539.7 335.9,539.2 332.5,536.9 C329.1,534.5 326.5,529.3 324.4,527.0 C322.3,524.7 321.4,524.4 320.0,523.0 C318.6,521.6 317.9,522.4 316.3,518.6 C314.7,514.9 312.3,507.5 310.3,500.5 C308.3,493.5 306.6,484.8 304.3,476.4 C302.0,468.0 299.0,458.7 296.3,450.3 C293.6,441.9 290.9,432.7 288.2,426.2 C285.5,419.7 283.2,413.4 280.2,411.2 C277.2,409.0 273.5,410.4 270.2,413.2 C266.9,416.0 263.1,425.0 260.1,428.2 C257.1,431.4 255.1,432.2 252.1,432.2 C249.1,432.2 245.3,430.2 242.0,428.2 C238.7,426.2 234.9,421.2 232.0,420.0 C229.1,418.8 226.9,419.3 224.3,421.0 C221.7,422.7 219.0,426.0 216.3,430.2 C213.6,434.4 211.0,439.9 208.3,446.3 C205.6,452.7 202.9,461.0 200.2,468.4 C197.5,475.8 195.5,483.8 192.2,490.5 C188.9,497.2 184.2,504.2 180.2,508.6 C176.2,513.0 171.4,515.9 168.1,516.6 C164.8,517.3 164.8,513.3 160.1,512.6 C155.4,511.9 144.2,513.7 140.0,512.6 C135.8,511.5 136.8,507.8 135.0,506.0 C133.2,504.2 131.0,503.3 129.0,502.0 C127.0,500.7 125.0,499.3 123.0,498.0 C121.0,496.7 118.7,495.5 117.0,494.0 C115.3,492.5 114.3,490.0 113.0,489.0 C111.7,488.0 110.7,487.8 109.0,488.0 C107.3,488.2 105.0,489.5 103.0,490.0 C101.0,490.5 99.3,490.7 97.0,491.0 C94.7,491.3 91.0,491.3 89.0,492.0 C87.0,492.7 86.5,494.0 85.0,495.0 C83.5,496.0 81.7,498.3 80.0,498.0 C78.3,497.7 76.7,494.5 75.0,493.0 C73.3,491.5 71.7,489.2 70.0,489.0 C68.3,488.8 66.8,490.7 65.0,492.0 C63.2,493.3 61.0,496.5 59.0,497.0 C57.0,497.5 55.0,495.2 53.0,495.0 C51.0,494.8 48.0,495.8 47.0,496.0 Z" fill="#ffe2e4" fill-opacity="0.9"/>
<path d="M47.0,481.0 C48.3,481.0 52.7,480.8 55.0,481.0 C57.3,481.2 59.0,482.2 61.0,482.5 C63.0,482.8 65.0,482.1 67.0,482.5 C69.0,482.9 71.0,484.8 73.0,485.0 C75.0,485.2 77.0,483.9 79.0,483.5 C81.0,483.1 83.0,482.5 85.0,482.5 C87.0,482.5 89.0,483.2 91.0,483.5 C93.0,483.8 95.0,483.8 97.0,484.0 C99.0,484.2 101.0,484.5 103.0,485.0 C105.0,485.5 107.0,487.0 109.0,487.0 C111.0,487.0 113.0,484.9 115.0,485.0 C117.0,485.1 119.0,486.6 121.0,487.5 C123.0,488.4 125.0,489.7 127.0,490.5 C129.0,491.3 130.8,492.3 133.0,492.5 C135.2,492.7 136.2,492.5 140.0,491.5 C143.8,490.5 150.7,489.0 156.0,486.5 C161.3,484.0 166.7,481.8 172.1,476.4 C177.5,471.0 183.5,461.3 188.2,454.3 C192.9,447.3 196.2,440.0 200.2,434.3 C204.2,428.6 208.3,424.4 212.3,420.2 C216.3,416.0 221.4,411.2 224.3,409.2 C227.2,407.2 227.7,407.4 230.0,408.2 C232.3,409.0 235.3,411.3 238.0,414.0 C240.7,416.7 242.1,421.5 246.1,424.2 C250.1,426.9 257.4,428.2 262.1,430.2 C266.8,432.2 270.2,432.3 274.2,436.3 C278.2,440.3 282.2,448.3 286.2,454.3 C290.2,460.3 294.3,466.7 298.3,472.4 C302.3,478.1 307.3,486.5 310.3,488.5 C313.3,490.5 314.7,487.9 316.3,484.5 C317.9,481.1 318.7,472.4 320.0,468.0 C321.3,463.6 322.3,461.5 324.0,458.0 C325.7,454.5 327.9,450.0 330.4,447.1 C332.9,444.2 336.0,440.9 338.8,440.9 C341.6,440.9 344.7,442.6 347.1,447.1 C349.5,451.6 350.9,458.6 353.4,468.0 C355.8,477.4 359.0,494.8 361.8,503.5 C364.6,512.2 367.0,517.8 370.1,520.2 C373.2,522.6 377.0,519.8 380.5,518.1 C384.0,516.4 387.2,513.3 391.0,509.8 C394.8,506.3 400.3,499.4 403.5,497.2 C406.7,495.0 407.1,496.8 410.0,496.5 C412.9,496.2 416.8,497.0 420.6,495.7 C424.4,494.4 428.9,488.3 433.0,488.6 C437.1,488.9 440.9,495.8 445.3,497.4 C449.7,499.0 455.4,499.6 459.5,498.3 C463.6,497.0 465.8,494.5 470.1,489.5 C474.4,484.5 482.6,471.8 485.1,468.3 L485.1,487.7 C482.6,491.2 474.4,504.3 470.1,508.9 C465.8,513.5 463.6,513.6 459.5,515.1 C455.4,516.6 449.7,518.6 445.3,517.7 C440.9,516.8 437.1,510.4 433.0,509.8 C428.9,509.2 424.4,513.8 420.6,514.2 C416.8,514.6 412.9,512.5 410.0,512.4 C407.1,512.3 406.3,512.2 403.5,513.9 C400.7,515.5 396.6,519.5 393.1,522.3 C389.6,525.1 386.1,528.0 382.6,530.6 C379.1,533.2 375.3,538.7 372.2,538.0 C369.1,537.3 366.6,532.6 363.8,526.5 C361.0,520.4 358.6,509.4 355.5,501.4 C352.4,493.4 348.2,483.4 345.1,478.5 C342.0,473.6 339.5,472.2 336.7,472.2 C333.9,472.2 330.8,474.4 328.4,478.5 C326.0,482.6 324.4,491.5 322.4,496.5 C320.4,501.5 318.3,505.8 316.3,508.6 C314.3,511.5 313.3,515.3 310.3,513.6 C307.3,511.9 302.3,503.7 298.3,498.5 C294.3,493.3 290.2,488.1 286.2,482.4 C282.2,476.7 278.2,469.1 274.2,464.4 C270.2,459.7 266.8,457.3 262.1,454.3 C257.4,451.3 251.4,449.3 246.1,446.3 C240.8,443.3 233.6,437.6 230.0,436.3 C226.4,435.0 227.2,436.3 224.3,438.3 C221.4,440.3 216.3,444.3 212.3,448.3 C208.3,452.3 204.2,456.7 200.2,462.4 C196.2,468.1 192.9,477.4 188.2,482.4 C183.5,487.4 177.5,489.8 172.1,492.5 C166.7,495.2 161.3,497.0 156.0,498.5 C150.7,500.0 143.8,500.9 140.0,501.5 C136.2,502.1 135.2,502.2 133.0,502.0 C130.8,501.8 129.0,500.8 127.0,500.0 C125.0,499.2 123.0,497.9 121.0,497.0 C119.0,496.1 117.0,494.6 115.0,494.5 C113.0,494.4 111.0,496.5 109.0,496.5 C107.0,496.5 105.0,495.0 103.0,494.5 C101.0,494.0 99.0,493.8 97.0,493.5 C95.0,493.2 93.0,493.2 91.0,493.0 C89.0,492.8 87.0,492.0 85.0,492.0 C83.0,492.0 81.0,492.6 79.0,493.0 C77.0,493.4 75.0,494.7 73.0,494.5 C71.0,494.3 69.0,492.4 67.0,492.0 C65.0,491.6 63.0,492.2 61.0,492.0 C59.0,491.8 57.3,490.8 55.0,490.5 C52.7,490.2 48.3,490.5 47.0,490.5 Z" fill="#e2f8e6" fill-opacity="0.88"/>
<path d="M47.0,482.0 C48.0,481.8 51.0,480.8 53.0,481.0 C55.0,481.2 57.0,483.3 59.0,483.0 C61.0,482.7 63.2,480.2 65.0,479.0 C66.8,477.8 68.3,475.8 70.0,476.0 C71.7,476.2 73.3,478.5 75.0,480.0 C76.7,481.5 78.3,484.7 80.0,485.0 C81.7,485.3 83.5,483.0 85.0,482.0 C86.5,481.0 87.0,479.7 89.0,479.0 C91.0,478.3 94.7,478.3 97.0,478.0 C99.3,477.7 101.0,477.5 103.0,477.0 C105.0,476.5 107.3,475.2 109.0,475.0 C110.7,474.8 111.7,475.0 113.0,476.0 C114.3,477.0 115.3,479.5 117.0,481.0 C118.7,482.5 121.0,483.7 123.0,485.0 C125.0,486.3 127.0,487.7 129.0,489.0 C131.0,490.3 133.2,491.1 135.0,493.0 C136.8,494.9 137.5,499.5 140.0,500.5 C142.5,501.5 146.7,499.5 150.0,499.0 C153.3,498.5 157.1,496.9 160.1,497.5 C163.1,498.1 164.8,504.0 168.1,502.5 C171.4,501.0 176.2,495.9 180.2,488.5 C184.2,481.1 188.9,466.8 192.2,458.4 C195.5,450.0 197.5,445.0 200.2,438.3 C202.9,431.6 205.6,424.7 208.3,418.2 C211.0,411.7 213.6,404.0 216.3,399.1 C219.0,394.2 221.9,391.3 224.3,389.1 C226.8,386.9 229.1,386.0 231.0,386.0 C232.9,386.0 234.2,387.0 236.0,389.0 C237.8,391.0 239.3,395.2 242.0,398.1 C244.7,401.0 249.1,404.9 252.1,406.1 C255.1,407.3 257.1,408.1 260.1,405.1 C263.1,402.1 267.2,392.1 270.2,388.1 C273.2,384.1 276.0,382.4 278.2,381.0 C280.4,379.6 281.5,378.1 283.2,380.0 C284.9,381.9 286.0,386.1 288.2,392.1 C290.4,398.1 293.6,408.2 296.3,416.2 C299.0,424.2 301.6,432.3 304.3,440.3 C307.0,448.3 310.3,457.4 312.3,464.4 C314.3,471.4 314.6,478.5 316.3,482.5 C318.0,486.5 320.0,486.9 322.4,488.5 C324.8,490.1 327.3,492.1 330.4,492.0 C333.5,491.9 337.6,489.5 340.9,487.8 C344.2,486.1 347.5,479.0 350.3,481.6 C353.1,484.2 355.0,496.7 357.6,503.5 C360.2,510.3 363.1,517.8 365.9,522.3 C368.7,526.8 371.5,530.6 374.3,530.6 C377.1,530.6 379.8,527.2 382.6,522.3 C385.4,517.4 388.2,507.3 391.0,501.4 C393.8,495.5 396.5,490.3 399.3,486.8 C402.1,483.3 405.9,481.8 407.7,480.5 C409.5,479.2 407.9,481.8 410.0,478.9 C412.1,476.0 417.1,467.9 420.6,463.0 C424.1,458.1 428.0,452.6 431.2,449.7 C434.4,446.8 436.8,445.0 440.0,445.3 C443.2,445.6 447.7,449.1 450.6,451.5 C453.6,453.9 455.1,457.6 457.7,459.4 C460.3,461.2 463.9,461.4 466.5,462.1 C469.1,462.9 471.7,464.3 473.6,463.9 C475.5,463.4 476.1,459.5 478.0,459.4 C479.9,459.2 483.9,462.4 485.1,463.0" fill="none" stroke="#e27e80" stroke-width="1"/>
<path d="M47.0,496.0 C48.0,495.8 51.0,494.8 53.0,495.0 C55.0,495.2 57.0,497.5 59.0,497.0 C61.0,496.5 63.2,493.3 65.0,492.0 C66.8,490.7 68.3,488.8 70.0,489.0 C71.7,489.2 73.3,491.5 75.0,493.0 C76.7,494.5 78.3,497.7 80.0,498.0 C81.7,498.3 83.5,496.0 85.0,495.0 C86.5,494.0 87.0,492.7 89.0,492.0 C91.0,491.3 94.7,491.3 97.0,491.0 C99.3,490.7 101.0,490.5 103.0,490.0 C105.0,489.5 107.3,488.2 109.0,488.0 C110.7,487.8 111.7,488.0 113.0,489.0 C114.3,490.0 115.3,492.5 117.0,494.0 C118.7,495.5 121.0,496.7 123.0,498.0 C125.0,499.3 127.0,500.7 129.0,502.0 C131.0,503.3 133.2,504.2 135.0,506.0 C136.8,507.8 135.8,511.5 140.0,512.6 C144.2,513.7 155.4,511.9 160.1,512.6 C164.8,513.3 164.8,517.3 168.1,516.6 C171.4,515.9 176.2,513.0 180.2,508.6 C184.2,504.2 188.9,497.2 192.2,490.5 C195.5,483.8 197.5,475.8 200.2,468.4 C202.9,461.0 205.6,452.7 208.3,446.3 C211.0,439.9 213.6,434.4 216.3,430.2 C219.0,426.0 221.7,422.7 224.3,421.0 C226.9,419.3 229.1,418.8 232.0,420.0 C234.9,421.2 238.7,426.2 242.0,428.2 C245.3,430.2 249.1,432.2 252.1,432.2 C255.1,432.2 257.1,431.4 260.1,428.2 C263.1,425.0 266.9,416.0 270.2,413.2 C273.5,410.4 277.2,409.0 280.2,411.2 C283.2,413.4 285.5,419.7 288.2,426.2 C290.9,432.7 293.6,441.9 296.3,450.3 C299.0,458.7 302.0,468.0 304.3,476.4 C306.6,484.8 308.3,493.5 310.3,500.5 C312.3,507.5 314.7,514.9 316.3,518.6 C317.9,522.4 318.6,521.6 320.0,523.0 C321.4,524.4 322.3,524.7 324.4,527.0 C326.5,529.3 329.1,534.5 332.5,536.9 C335.9,539.2 341.6,539.7 345.1,541.1 C348.6,542.5 350.6,540.8 353.4,545.3 C356.2,549.8 359.0,561.6 361.8,568.2 C364.6,574.8 367.9,581.8 370.1,584.9 C372.4,588.0 373.2,589.1 375.3,587.0 C377.4,584.9 380.0,578.7 382.6,572.4 C385.2,566.1 388.2,556.4 391.0,549.4 C393.8,542.4 396.5,535.5 399.3,530.6 C402.1,525.7 405.9,522.4 407.7,520.2 C409.5,518.1 407.9,520.8 410.0,517.7 C412.1,514.6 416.8,507.8 420.6,501.8 C424.4,495.8 429.8,485.1 433.0,481.5 C436.2,477.9 437.1,479.9 440.0,480.3 C442.9,480.8 447.7,482.7 450.6,484.2 C453.6,485.7 455.1,488.5 457.7,489.5 C460.3,490.5 463.3,491.0 466.5,490.4 C469.7,489.8 474.0,486.1 477.1,485.9 C480.2,485.7 483.8,488.6 485.1,489.1" fill="none" stroke="#e27e80" stroke-width="1"/>
<path d="M47.0,481.0 C48.3,481.0 52.7,480.8 55.0,481.0 C57.3,481.2 59.0,482.2 61.0,482.5 C63.0,482.8 65.0,482.1 67.0,482.5 C69.0,482.9 71.0,484.8 73.0,485.0 C75.0,485.2 77.0,483.9 79.0,483.5 C81.0,483.1 83.0,482.5 85.0,482.5 C87.0,482.5 89.0,483.2 91.0,483.5 C93.0,483.8 95.0,483.8 97.0,484.0 C99.0,484.2 101.0,484.5 103.0,485.0 C105.0,485.5 107.0,487.0 109.0,487.0 C111.0,487.0 113.0,484.9 115.0,485.0 C117.0,485.1 119.0,486.6 121.0,487.5 C123.0,488.4 125.0,489.7 127.0,490.5 C129.0,491.3 130.8,492.3 133.0,492.5 C135.2,492.7 136.2,492.5 140.0,491.5 C143.8,490.5 150.7,489.0 156.0,486.5 C161.3,484.0 166.7,481.8 172.1,476.4 C177.5,471.0 183.5,461.3 188.2,454.3 C192.9,447.3 196.2,440.0 200.2,434.3 C204.2,428.6 208.3,424.4 212.3,420.2 C216.3,416.0 221.4,411.2 224.3,409.2 C227.2,407.2 227.7,407.4 230.0,408.2 C232.3,409.0 235.3,411.3 238.0,414.0 C240.7,416.7 242.1,421.5 246.1,424.2 C250.1,426.9 257.4,428.2 262.1,430.2 C266.8,432.2 270.2,432.3 274.2,436.3 C278.2,440.3 282.2,448.3 286.2,454.3 C290.2,460.3 294.3,466.7 298.3,472.4 C302.3,478.1 307.3,486.5 310.3,488.5 C313.3,490.5 314.7,487.9 316.3,484.5 C317.9,481.1 318.7,472.4 320.0,468.0 C321.3,463.6 322.3,461.5 324.0,458.0 C325.7,454.5 327.9,450.0 330.4,447.1 C332.9,444.2 336.0,440.9 338.8,440.9 C341.6,440.9 344.7,442.6 347.1,447.1 C349.5,451.6 350.9,458.6 353.4,468.0 C355.8,477.4 359.0,494.8 361.8,503.5 C364.6,512.2 367.0,517.8 370.1,520.2 C373.2,522.6 377.0,519.8 380.5,518.1 C384.0,516.4 387.2,513.3 391.0,509.8 C394.8,506.3 400.3,499.4 403.5,497.2 C406.7,495.0 407.1,496.8 410.0,496.5 C412.9,496.2 416.8,497.0 420.6,495.7 C424.4,494.4 428.9,488.3 433.0,488.6 C437.1,488.9 440.9,495.8 445.3,497.4 C449.7,499.0 455.4,499.6 459.5,498.3 C463.6,497.0 465.8,494.5 470.1,489.5 C474.4,484.5 482.6,471.8 485.1,468.3" fill="none" stroke="#8cbf7c" stroke-width="1"/>
<path d="M47.0,490.5 C48.3,490.5 52.7,490.2 55.0,490.5 C57.3,490.8 59.0,491.8 61.0,492.0 C63.0,492.2 65.0,491.6 67.0,492.0 C69.0,492.4 71.0,494.3 73.0,494.5 C75.0,494.7 77.0,493.4 79.0,493.0 C81.0,492.6 83.0,492.0 85.0,492.0 C87.0,492.0 89.0,492.8 91.0,493.0 C93.0,493.2 95.0,493.2 97.0,493.5 C99.0,493.8 101.0,494.0 103.0,494.5 C105.0,495.0 107.0,496.5 109.0,496.5 C111.0,496.5 113.0,494.4 115.0,494.5 C117.0,494.6 119.0,496.1 121.0,497.0 C123.0,497.9 125.0,499.2 127.0,500.0 C129.0,500.8 130.8,501.8 133.0,502.0 C135.2,502.2 136.2,502.1 140.0,501.5 C143.8,500.9 150.7,500.0 156.0,498.5 C161.3,497.0 166.7,495.2 172.1,492.5 C177.5,489.8 183.5,487.4 188.2,482.4 C192.9,477.4 196.2,468.1 200.2,462.4 C204.2,456.7 208.3,452.3 212.3,448.3 C216.3,444.3 221.4,440.3 224.3,438.3 C227.2,436.3 226.4,435.0 230.0,436.3 C233.6,437.6 240.8,443.3 246.1,446.3 C251.4,449.3 257.4,451.3 262.1,454.3 C266.8,457.3 270.2,459.7 274.2,464.4 C278.2,469.1 282.2,476.7 286.2,482.4 C290.2,488.1 294.3,493.3 298.3,498.5 C302.3,503.7 307.3,511.9 310.3,513.6 C313.3,515.3 314.3,511.5 316.3,508.6 C318.3,505.8 320.4,501.5 322.4,496.5 C324.4,491.5 326.0,482.6 328.4,478.5 C330.8,474.4 333.9,472.2 336.7,472.2 C339.5,472.2 342.0,473.6 345.1,478.5 C348.2,483.4 352.4,493.4 355.5,501.4 C358.6,509.4 361.0,520.4 363.8,526.5 C366.6,532.6 369.1,537.3 372.2,538.0 C375.3,538.7 379.1,533.2 382.6,530.6 C386.1,528.0 389.6,525.1 393.1,522.3 C396.6,519.5 400.7,515.5 403.5,513.9 C406.3,512.2 407.1,512.3 410.0,512.4 C412.9,512.5 416.8,514.6 420.6,514.2 C424.4,513.8 428.9,509.2 433.0,509.8 C437.1,510.4 440.9,516.8 445.3,517.7 C449.7,518.6 455.4,516.6 459.5,515.1 C463.6,513.6 465.8,513.5 470.1,508.9 C474.4,504.3 482.6,491.2 485.1,487.7" fill="none" stroke="#8cbf7c" stroke-width="1"/>
<path d="M47.5,489.3 C48.4,489.1 51.1,488.0 53.0,488.1 C54.9,488.2 57.0,490.2 59.0,489.7 C61.0,489.2 63.2,486.4 65.1,485.1 C66.9,483.8 68.4,481.9 70.1,482.1 C71.8,482.3 73.4,484.6 75.1,486.1 C76.8,487.6 78.4,490.8 80.1,491.1 C81.8,491.4 83.7,489.1 85.2,488.1 C86.7,487.1 87.2,485.8 89.2,485.1 C91.2,484.4 94.9,484.4 97.2,484.1 C99.5,483.8 101.2,483.6 103.2,483.1 C105.2,482.6 107.6,481.3 109.3,481.1 C111.0,480.9 112.0,481.1 113.3,482.1 C114.6,483.1 115.6,485.6 117.3,487.1 C119.0,488.6 121.3,489.8 123.3,491.1 C125.3,492.4 127.3,493.8 129.3,495.1 C131.3,496.5 133.7,497.5 135.4,499.2 C137.1,500.9 137.6,504.0 139.4,505.2 C141.2,506.4 143.9,506.8 146.0,506.5 C148.1,506.2 149.7,503.8 152.0,503.5 C154.3,503.2 157.4,503.6 160.1,504.5 C162.8,505.4 165.8,508.6 168.1,508.6 C170.4,508.6 172.1,506.0 174.1,504.5 C176.1,503.0 178.2,501.8 180.2,499.5 C182.2,497.2 184.2,494.0 186.2,490.5 C188.2,487.0 190.5,483.1 192.2,478.4 C193.9,473.7 194.9,467.1 196.2,462.4 C197.5,457.7 198.5,455.0 200.2,450.3 C201.9,445.6 204.3,439.0 206.3,434.3 C208.3,429.6 210.3,425.7 212.3,422.2 C214.3,418.7 216.3,415.5 218.3,413.2 C220.3,410.9 222.3,409.9 224.3,408.2 C226.3,406.5 228.4,403.6 230.4,403.1 C232.4,402.6 234.8,404.4 236.4,405.1 C238.0,405.8 238.4,405.4 240.0,407.1 C241.6,408.8 244.1,413.2 246.1,415.2 C248.1,417.2 249.8,419.0 252.1,419.2 C254.4,419.4 257.4,418.4 260.1,416.2 C262.8,414.0 265.5,409.1 268.2,406.1 C270.9,403.1 273.9,399.8 276.2,398.1 C278.5,396.4 280.5,394.4 282.2,395.7 C283.9,397.0 284.5,401.4 286.2,406.1 C287.9,410.9 290.2,417.8 292.2,424.2 C294.2,430.6 296.3,437.6 298.3,444.3 C300.3,451.0 302.3,457.7 304.3,464.4 C306.3,471.1 308.6,478.5 310.3,484.5 C312.0,490.5 313.0,497.2 314.3,500.5 C315.6,503.8 317.1,503.4 318.4,504.5 C319.7,505.6 320.7,505.8 322.0,507.0 C323.3,508.2 324.2,510.4 326.3,511.9 C328.4,513.4 331.8,515.5 334.6,516.0 C337.4,516.5 340.4,515.7 343.0,515.0 C345.6,514.3 348.2,510.7 350.3,511.9 C352.4,513.1 353.6,517.4 355.5,522.3 C357.4,527.2 359.7,535.9 361.8,541.1 C363.9,546.3 365.9,550.7 368.0,553.6 C370.1,556.5 372.2,558.6 374.3,558.8 C376.4,559.0 378.4,557.7 380.5,554.7 C382.6,551.8 384.7,546.2 386.8,541.1 C388.9,536.0 391.0,529.3 393.1,524.4 C395.2,519.5 397.2,515.2 399.3,511.9 C401.4,508.6 403.8,506.9 405.6,504.6 C407.4,502.3 408.4,500.8 410.0,498.3 C411.6,495.8 413.2,492.7 415.3,489.5 C417.4,486.3 420.3,481.7 422.4,478.9 C424.5,476.1 425.9,474.8 427.7,472.7 C429.5,470.6 430.9,467.8 433.0,466.1 C435.1,464.4 437.9,462.6 440.0,462.6 C442.1,462.6 443.4,465.2 445.3,466.1 C447.2,467.0 449.7,466.5 451.5,467.9 C453.3,469.3 454.0,473.3 455.9,474.5 C457.8,475.7 460.6,474.9 463.0,475.3 C465.4,475.7 468.0,476.6 470.1,476.7 C472.2,476.8 473.9,476.9 475.4,476.2 C476.9,475.5 477.3,472.7 478.9,472.7 C480.5,472.7 484.1,475.6 485.1,476.2" fill="none" stroke="#e00a0a" stroke-width="2.35" stroke-linejoin="round"/>
<path d="M47.0,485.7 C48.3,485.7 52.6,485.5 55.0,485.7 C57.4,485.9 59.1,486.9 61.1,487.1 C63.1,487.3 65.1,486.7 67.1,487.1 C69.1,487.5 71.1,489.5 73.1,489.7 C75.1,489.9 77.1,488.5 79.1,488.1 C81.1,487.7 83.2,487.1 85.2,487.1 C87.2,487.1 89.2,487.9 91.2,488.1 C93.2,488.3 95.2,488.2 97.2,488.5 C99.2,488.8 101.2,489.2 103.2,489.7 C105.2,490.2 107.3,491.7 109.3,491.7 C111.3,491.7 113.3,489.6 115.3,489.7 C117.3,489.8 119.3,491.2 121.3,492.1 C123.3,493.0 125.3,494.3 127.3,495.1 C129.3,495.9 131.4,496.7 133.4,497.1 C135.4,497.6 137.5,497.9 139.4,497.8 C141.3,497.7 143.6,497.1 145.0,496.7 C146.4,496.3 146.2,496.2 148.0,495.5 C149.8,494.8 153.4,493.7 156.1,492.5 C158.8,491.3 161.4,489.8 164.1,488.5 C166.8,487.2 169.4,486.2 172.1,484.5 C174.8,482.8 177.5,481.1 180.2,478.4 C182.9,475.7 185.5,472.4 188.2,468.4 C190.9,464.4 193.5,458.3 196.2,454.3 C198.9,450.3 201.6,447.6 204.3,444.3 C207.0,441.0 209.6,437.3 212.3,434.3 C215.0,431.3 217.6,428.1 220.3,426.2 C223.0,424.2 226.1,423.0 228.4,422.6 C230.8,422.2 232.8,422.9 234.4,423.8 C236.0,424.7 236.1,426.4 238.0,428.2 C239.9,429.9 243.4,432.6 246.1,434.3 C248.8,436.0 251.4,437.0 254.1,438.3 C256.8,439.6 259.4,440.8 262.1,442.3 C264.8,443.8 267.5,445.0 270.2,447.3 C272.9,449.6 275.5,452.8 278.2,456.3 C280.9,459.8 283.5,464.0 286.2,468.4 C288.9,472.8 291.6,478.0 294.3,482.4 C297.0,486.8 299.6,491.2 302.3,494.5 C305.0,497.8 308.0,501.8 310.3,502.1 C312.6,502.4 314.7,499.2 316.3,496.5 C317.9,493.8 318.3,490.9 320.0,486.0 C321.7,481.1 324.2,471.6 326.3,467.0 C328.4,462.4 330.4,460.2 332.5,458.6 C334.6,457.0 336.7,456.7 338.8,457.2 C340.9,457.7 343.0,458.6 345.1,461.8 C347.2,465.0 349.2,470.1 351.3,476.4 C353.4,482.6 355.5,492.4 357.6,499.3 C359.7,506.2 361.7,513.2 363.8,518.1 C365.9,523.0 368.0,526.9 370.1,528.6 C372.2,530.4 374.0,529.5 376.4,528.6 C378.8,527.7 381.9,525.0 384.7,523.3 C387.5,521.5 390.3,520.0 393.1,518.1 C395.9,516.2 399.0,514.0 401.4,511.9 C403.8,509.8 405.6,506.8 407.7,505.6 C409.8,504.4 411.8,504.9 413.9,504.6 C416.0,504.3 418.9,504.5 420.6,504.0 C422.3,503.5 422.0,502.5 424.1,501.8 C426.2,501.1 430.4,499.2 433.0,499.7 C435.6,500.1 437.6,503.1 440.0,504.5 C442.4,505.9 444.5,507.6 447.1,508.0 C449.8,508.4 453.2,507.3 455.9,507.1 C458.5,506.9 460.6,508.3 463.0,506.8 C465.4,505.3 467.8,501.5 470.1,498.3 C472.5,495.1 474.6,491.1 477.1,487.7 C479.6,484.3 483.8,479.6 485.1,478.0" fill="none" stroke="#3c9c1c" stroke-width="2.4" stroke-linejoin="round" opacity="0.95"/>
<line x1="46.8" y1="351.8" x2="46.8" y2="608.0" stroke="#7a7a7a" stroke-width="1.2"/>
<line x1="46.199999999999996" y1="607.5" x2="486.5" y2="607.5" stroke="#7a7a7a" stroke-width="1.2"/>
<line x1="46.8" y1="351.8" x2="51.8" y2="351.8" stroke="#7a7a7a" stroke-width="1.1"/>
<text x="39.4" y="357.1" text-anchor="end" font-size="14.7" font-family="Liberation Sans, sans-serif" fill="#111">-6</text>
<line x1="46.8" y1="398.3" x2="51.8" y2="398.3" stroke="#7a7a7a" stroke-width="1.1"/>
<text x="39.4" y="403.6" text-anchor="end" font-size="14.7" font-family="Liberation Sans, sans-serif" fill="#111">-4</text>
<line x1="46.8" y1="444.8" x2="51.8" y2="444.8" stroke="#7a7a7a" stroke-width="1.1"/>
<text x="39.4" y="450.1" text-anchor="end" font-size="14.7" font-family="Liberation Sans, sans-serif" fill="#111">-2</text>
<line x1="46.8" y1="491.3" x2="51.8" y2="491.3" stroke="#7a7a7a" stroke-width="1.1"/>
<text x="39.4" y="496.6" text-anchor="end" font-size="14.7" font-family="Liberation Sans, sans-serif" fill="#111">0</text>
<line x1="46.8" y1="537.8" x2="51.8" y2="537.8" stroke="#7a7a7a" stroke-width="1.1"/>
<text x="39.4" y="543.1" text-anchor="end" font-size="14.7" font-family="Liberation Sans, sans-serif" fill="#111">2</text>
<line x1="46.8" y1="584.3" x2="51.8" y2="584.3" stroke="#7a7a7a" stroke-width="1.1"/>
<text x="39.4" y="589.6" text-anchor="end" font-size="14.7" font-family="Liberation Sans, sans-serif" fill="#111">4</text>
<text x="45.0" y="626.5" text-anchor="middle" font-size="14.8" font-family="Liberation Sans, sans-serif" fill="#111">-400</text>
<line x1="101.4" y1="607.5" x2="101.4" y2="602.5" stroke="#7a7a7a" stroke-width="1.1"/>
<line x1="156.3" y1="607.5" x2="156.3" y2="602.5" stroke="#7a7a7a" stroke-width="1.1"/>
<text x="154.8" y="626.5" text-anchor="middle" font-size="14.8" font-family="Liberation Sans, sans-serif" fill="#111">-200</text>
<line x1="211.2" y1="607.5" x2="211.2" y2="602.5" stroke="#7a7a7a" stroke-width="1.1"/>
<line x1="266.1" y1="607.5" x2="266.1" y2="602.5" stroke="#7a7a7a" stroke-width="1.1"/>
<text x="266.1" y="626.5" text-anchor="middle" font-size="14.8" font-family="Liberation Sans, sans-serif" fill="#111">0</text>
<line x1="321.0" y1="607.5" x2="321.0" y2="602.5" stroke="#7a7a7a" stroke-width="1.1"/>
<line x1="375.9" y1="607.5" x2="375.9" y2="602.5" stroke="#7a7a7a" stroke-width="1.1"/>
<text x="375.9" y="626.5" text-anchor="middle" font-size="14.8" font-family="Liberation Sans, sans-serif" fill="#111">200</text>
<line x1="430.8" y1="607.5" x2="430.8" y2="602.5" stroke="#7a7a7a" stroke-width="1.1"/>
<line x1="485.7" y1="607.5" x2="485.7" y2="602.5" stroke="#7a7a7a" stroke-width="1.1"/>
<text x="485.7" y="626.5" text-anchor="middle" font-size="14.8" font-family="Liberation Sans, sans-serif" fill="#111">400</text>
<text x="263.6" y="650.1" text-anchor="middle" font-size="14.8" font-family="Liberation Sans, sans-serif" fill="#111" textLength="64.3" lengthAdjust="spacingAndGlyphs">Time [ms]</text>
<text transform="translate(11.6,469.7) rotate(-90)" text-anchor="middle" font-size="15" font-family="Liberation Sans, sans-serif" fill="#111" textLength="100.6" lengthAdjust="spacingAndGlyphs">Amplitude [µV]</text>
<text x="486" y="362.4" text-anchor="end" font-size="14.2" font-family="Liberation Sans, sans-serif" fill="#111" textLength="66.8" lengthAdjust="spacingAndGlyphs">Session t2</text>
<text x="267" y="377.6" font-size="14" font-family="Liberation Sans, sans-serif" fill="#111" textLength="26.2" lengthAdjust="spacingAndGlyphs">ERN</text>
<text transform="translate(277,572.0) rotate(-90)" font-size="14" font-family="Liberation Sans, sans-serif" fill="#111" textLength="62.5" lengthAdjust="spacingAndGlyphs">Response</text>
<text x="0.5" y="689.7" font-size="15" font-family="Liberation Sans, sans-serif" fill="#111">(b)</text>
<clipPath id="c1"><circle cx="249" cy="249" r="249"/></clipPath>
<g transform="translate(46,694) scale(0.21566)"><g clip-path="url(#c1)"><rect x="-30" y="-30" width="560" height="560" fill="#1830e8"/><path d="M-30.0,-30.0 C61.7,-73.3 428.3,-65.8 520.0,-30.0 C611.7,5.8 526.7,153.3 520.0,185.0 C513.3,216.7 493.3,168.2 480.0,160.0 C466.7,151.8 453.3,141.3 440.0,136.0 C426.7,130.7 415.0,128.7 400.0,128.0 C385.0,127.3 366.7,130.7 350.0,132.0 C333.3,133.3 316.7,134.3 300.0,136.0 C283.3,137.7 266.7,138.7 250.0,142.0 C233.3,145.3 216.7,151.3 200.0,156.0 C183.3,160.7 166.7,165.0 150.0,170.0 C133.3,175.0 116.7,180.0 100.0,186.0 C83.3,192.0 71.7,198.7 50.0,206.0 C28.3,213.3 -16.7,269.3 -30.0,230.0 C-43.3,190.7 -121.7,13.3 -30.0,-30.0 Z" fill="#000090" filter="url(#b8)"/><path d="M-30.0,-30.0 C61.7,-71.3 428.3,-63.8 520.0,-30.0 C611.7,3.8 526.7,143.3 520.0,173.0 C513.3,202.7 493.3,156.2 480.0,148.0 C466.7,139.8 453.3,129.3 440.0,124.0 C426.7,118.7 415.0,116.7 400.0,116.0 C385.0,115.3 366.7,118.7 350.0,120.0 C333.3,121.3 316.7,122.3 300.0,124.0 C283.3,125.7 266.7,126.7 250.0,130.0 C233.3,133.3 216.7,139.3 200.0,144.0 C183.3,148.7 166.7,153.0 150.0,158.0 C133.3,163.0 116.7,168.0 100.0,174.0 C83.3,180.0 71.7,186.7 50.0,194.0 C28.3,201.3 -16.7,255.3 -30.0,218.0 C-43.3,180.7 -121.7,11.3 -30.0,-30.0 Z" fill="#00004c" filter="url(#b8)"/><path d="M45.0,320.0 C45.0,293.3 52.5,263.3 70.0,240.0 C87.5,216.7 120.0,193.0 150.0,180.0 C180.0,167.0 216.7,166.0 250.0,162.0 C283.3,158.0 323.3,153.3 350.0,156.0 C376.7,158.7 393.3,162.3 410.0,178.0 C426.7,193.7 441.3,226.3 450.0,250.0 C458.7,273.7 463.7,295.0 462.0,320.0 C460.3,345.0 453.7,378.7 440.0,400.0 C426.3,421.3 411.7,437.3 380.0,448.0 C348.3,458.7 290.0,463.7 250.0,464.0 C210.0,464.3 170.0,460.7 140.0,450.0 C110.0,439.3 85.8,421.7 70.0,400.0 C54.2,378.3 45.0,346.7 45.0,320.0 Z" fill="#9494ff" filter="url(#b8)"/><path d="M75.0,320.0 C74.2,295.3 80.8,272.7 95.0,252.0 C109.2,231.3 134.2,208.0 160.0,196.0 C185.8,184.0 220.0,183.7 250.0,180.0 C280.0,176.3 315.0,172.0 340.0,174.0 C365.0,176.0 385.0,179.3 400.0,192.0 C415.0,204.7 424.7,228.7 430.0,250.0 C435.3,271.3 435.3,295.8 432.0,320.0 C428.7,344.2 423.7,375.0 410.0,395.0 C396.3,415.0 376.7,430.5 350.0,440.0 C323.3,449.5 281.7,452.0 250.0,452.0 C218.3,452.0 185.0,448.7 160.0,440.0 C135.0,431.3 114.2,420.0 100.0,400.0 C85.8,380.0 75.8,344.7 75.0,320.0 Z" fill="#ffffff" filter="url(#b8)"/><path d="M96.0,315.0 C94.3,292.5 99.3,271.2 110.0,255.0 C120.7,238.8 136.7,226.0 160.0,218.0 C183.3,210.0 221.7,210.3 250.0,207.0 C278.3,203.7 309.7,199.2 330.0,198.0 C350.3,196.8 360.7,195.0 372.0,200.0 C383.3,205.0 393.0,211.3 398.0,228.0 C403.0,244.7 403.0,276.3 402.0,300.0 C401.0,323.7 400.7,349.2 392.0,370.0 C383.3,390.8 373.7,413.3 350.0,425.0 C326.3,436.7 280.8,439.5 250.0,440.0 C219.2,440.5 186.7,436.3 165.0,428.0 C143.3,419.7 131.5,408.8 120.0,390.0 C108.5,371.2 97.7,337.5 96.0,315.0 Z" fill="#ff9a9a" filter="url(#b8)"/><path d="M112.0,315.0 C110.8,295.0 115.3,273.8 125.0,260.0 C134.7,246.2 149.2,238.5 170.0,232.0 C190.8,225.5 223.3,224.3 250.0,221.0 C276.7,217.7 310.3,213.2 330.0,212.0 C349.7,210.8 358.0,209.7 368.0,214.0 C378.0,218.3 386.0,223.7 390.0,238.0 C394.0,252.3 393.3,278.8 392.0,300.0 C390.7,321.2 390.7,346.3 382.0,365.0 C373.3,383.7 362.0,401.8 340.0,412.0 C318.0,422.2 277.5,425.7 250.0,426.0 C222.5,426.3 194.7,421.7 175.0,414.0 C155.3,406.3 142.5,396.5 132.0,380.0 C121.5,363.5 113.2,335.0 112.0,315.0 Z" fill="#f00000" filter="url(#b8)"/><path d="M132.0,320.0 C131.3,301.7 133.2,275.7 142.0,262.0 C150.8,248.3 167.0,243.7 185.0,238.0 C203.0,232.3 225.8,231.3 250.0,228.0 C274.2,224.7 311.0,218.7 330.0,218.0 C349.0,217.3 355.7,218.7 364.0,224.0 C372.3,229.3 377.2,235.7 380.0,250.0 C382.8,264.3 382.3,290.7 381.0,310.0 C379.7,329.3 379.8,350.7 372.0,366.0 C364.2,381.3 354.3,394.0 334.0,402.0 C313.7,410.0 275.7,413.7 250.0,414.0 C224.3,414.3 197.3,411.0 180.0,404.0 C162.7,397.0 154.0,386.0 146.0,372.0 C138.0,358.0 132.7,338.3 132.0,320.0 Z" fill="#b00000" filter="url(#b8)"/><path d="M160.0,342.0 L170.0,285.0 L228.0,262.0 L332.0,244.0 L358.0,262.0 L360.0,370.0 L302.0,390.0 L196.0,388.0 Z" fill="#680000" filter="url(#b6)"/><path d="M185.0,335.0 L195.0,298.0 L235.0,282.0 L325.0,266.0 L340.0,280.0 L340.0,355.0 L298.0,368.0 L210.0,366.0 Z" fill="#2c0000" filter="url(#b6)"/></g>
<circle cx="190" cy="65" r="7" fill="none" stroke="#202020" stroke-width="3" opacity="0.5"/>
<circle cx="248" cy="65" r="7" fill="none" stroke="#202020" stroke-width="3" opacity="0.5"/>
<circle cx="306" cy="65" r="7" fill="none" stroke="#202020" stroke-width="3" opacity="0.5"/>
<circle cx="190" cy="105" r="7" fill="none" stroke="#202020" stroke-width="3" opacity="0.5"/>
<circle cx="306" cy="105" r="7" fill="none" stroke="#202020" stroke-width="3" opacity="0.5"/>
<circle cx="130" cy="150" r="7" fill="none" stroke="#202020" stroke-width="3" opacity="0.5"/>
<circle cx="170" cy="150" r="7" fill="none" stroke="#202020" stroke-width="3" opacity="0.5"/>
<circle cx="210" cy="150" r="7" fill="none" stroke="#202020" stroke-width="3" opacity="0.5"/>
<circle cx="248" cy="150" r="7" fill="none" stroke="#202020" stroke-width="3" opacity="0.5"/>
<circle cx="288" cy="150" r="7" fill="none" stroke="#202020" stroke-width="3" opacity="0.5"/>
<circle cx="326" cy="150" r="7" fill="none" stroke="#202020" stroke-width="3" opacity="0.5"/>
<circle cx="366" cy="150" r="7" fill="none" stroke="#202020" stroke-width="3" opacity="0.5"/>
<circle cx="115" cy="198" r="7" fill="none" stroke="#202020" stroke-width="3" opacity="0.5"/>
<circle cx="160" cy="198" r="7" fill="none" stroke="#202020" stroke-width="3" opacity="0.5"/>
<circle cx="205" cy="198" r="7" fill="none" stroke="#202020" stroke-width="3" opacity="0.5"/>
<circle cx="248" cy="198" r="7" fill="none" stroke="#202020" stroke-width="3" opacity="0.5"/>
<circle cx="292" cy="198" r="7" fill="none" stroke="#202020" stroke-width="3" opacity="0.5"/>
<circle cx="338" cy="198" r="7" fill="none" stroke="#202020" stroke-width="3" opacity="0.5"/>
<circle cx="384" cy="198" r="7" fill="none" stroke="#202020" stroke-width="3" opacity="0.5"/>
<circle cx="67" cy="192" r="7" fill="none" stroke="#202020" stroke-width="3" opacity="0.5"/>
<circle cx="429" cy="192" r="7" fill="none" stroke="#202020" stroke-width="3" opacity="0.5"/>
<circle cx="65" cy="246" r="7" fill="none" stroke="#202020" stroke-width="3" opacity="0.5"/>
<circle cx="108" cy="246" r="7" fill="none" stroke="#202020" stroke-width="3" opacity="0.5"/>
<circle cx="155" cy="246" r="7" fill="none" stroke="#202020" stroke-width="3" opacity="0.5"/>
<circle cx="200" cy="246" r="7" fill="none" stroke="#202020" stroke-width="3" opacity="0.5"/>
<circle cx="248" cy="246" r="7" fill="none" stroke="#202020" stroke-width="3" opacity="0.5"/>
<circle cx="295" cy="246" r="7" fill="none" stroke="#202020" stroke-width="3" opacity="0.5"/>
<circle cx="340" cy="246" r="7" fill="none" stroke="#202020" stroke-width="3" opacity="0.5"/>
<circle cx="390" cy="246" r="7" fill="none" stroke="#202020" stroke-width="3" opacity="0.5"/>
<circle cx="437" cy="246" r="7" fill="none" stroke="#202020" stroke-width="3" opacity="0.5"/>
<circle cx="72" cy="299" r="7" fill="none" stroke="#202020" stroke-width="3" opacity="0.5"/>
<circle cx="115" cy="299" r="7" fill="none" stroke="#202020" stroke-width="3" opacity="0.5"/>
<circle cx="158" cy="299" r="7" fill="none" stroke="#202020" stroke-width="3" opacity="0.5"/>
<circle cx="205" cy="299" r="7" fill="none" stroke="#202020" stroke-width="3" opacity="0.5"/>
<circle cx="248" cy="299" r="7" fill="none" stroke="#202020" stroke-width="3" opacity="0.5"/>
<circle cx="292" cy="299" r="7" fill="none" stroke="#202020" stroke-width="3" opacity="0.5"/>
<circle cx="335" cy="299" r="7" fill="none" stroke="#202020" stroke-width="3" opacity="0.5"/>
<circle cx="380" cy="299" r="7" fill="none" stroke="#202020" stroke-width="3" opacity="0.5"/>
<circle cx="425" cy="299" r="7" fill="none" stroke="#202020" stroke-width="3" opacity="0.5"/>
<circle cx="135" cy="350" r="7" fill="none" stroke="#202020" stroke-width="3" opacity="0.5"/>
<circle cx="180" cy="350" r="7" fill="none" stroke="#202020" stroke-width="3" opacity="0.5"/>
<circle cx="215" cy="350" r="7" fill="none" stroke="#202020" stroke-width="3" opacity="0.5"/>
<circle cx="248" cy="350" r="7" fill="none" stroke="#202020" stroke-width="3" opacity="0.5"/>
<circle cx="285" cy="350" r="7" fill="none" stroke="#202020" stroke-width="3" opacity="0.5"/>
<circle cx="320" cy="350" r="7" fill="none" stroke="#202020" stroke-width="3" opacity="0.5"/>
<circle cx="360" cy="350" r="7" fill="none" stroke="#202020" stroke-width="3" opacity="0.5"/>
<circle cx="100" cy="355" r="7" fill="none" stroke="#202020" stroke-width="3" opacity="0.5"/>
<circle cx="398" cy="355" r="7" fill="none" stroke="#202020" stroke-width="3" opacity="0.5"/>
<circle cx="190" cy="390" r="7" fill="none" stroke="#202020" stroke-width="3" opacity="0.5"/>
<circle cx="248" cy="390" r="7" fill="none" stroke="#202020" stroke-width="3" opacity="0.5"/>
<circle cx="305" cy="390" r="7" fill="none" stroke="#202020" stroke-width="3" opacity="0.5"/>
<circle cx="140" cy="395" r="7" fill="none" stroke="#202020" stroke-width="3" opacity="0.5"/>
<circle cx="355" cy="395" r="7" fill="none" stroke="#202020" stroke-width="3" opacity="0.5"/>
<circle cx="190" cy="428" r="7" fill="none" stroke="#202020" stroke-width="3" opacity="0.5"/>
<circle cx="248" cy="428" r="7" fill="none" stroke="#202020" stroke-width="3" opacity="0.5"/>
<circle cx="305" cy="428" r="7" fill="none" stroke="#202020" stroke-width="3" opacity="0.5"/>
<circle cx="248" cy="472" r="7" fill="none" stroke="#202020" stroke-width="3" opacity="0.5"/>
</g>
<circle cx="99.70" cy="747.70" r="53.70" fill="none" stroke="#555" stroke-width="0.8"/>
<path d="M94.5,694.4 C95.1,682.4 104.3,682.4 104.9,694.4" fill="none" stroke="#707070" stroke-width="1.1"/>
<clipPath id="c2"><circle cx="249" cy="249" r="249"/></clipPath>
<g transform="translate(212.6,693.8) scale(0.21526)"><g clip-path="url(#c2)"><rect x="-30" y="-30" width="560" height="560" fill="#2238e0"/><path d="M300.0,-30.0 C334.2,-45.0 483.3,-90.0 520.0,-30.0 C556.7,30.0 530.0,276.7 520.0,330.0 C510.0,383.3 476.7,311.7 460.0,290.0 C443.3,268.3 431.7,223.3 420.0,200.0 C408.3,176.7 402.5,164.7 390.0,150.0 C377.5,135.3 357.5,127.0 345.0,112.0 C332.5,97.0 322.5,83.7 315.0,60.0 C307.5,36.3 265.8,-15.0 300.0,-30.0 Z" fill="#5868ea" filter="url(#b8)"/><path d="M405.0,20.0 C421.3,3.3 500.8,-33.3 520.0,20.0 C539.2,73.3 528.3,293.3 520.0,340.0 C511.7,386.7 483.3,320.0 470.0,300.0 C456.7,280.0 448.0,250.0 440.0,220.0 C432.0,190.0 427.8,153.3 422.0,120.0 C416.2,86.7 388.7,36.7 405.0,20.0 Z" fill="#a0a8f2" filter="url(#b8)"/><path d="M95.0,120.0 C97.5,102.5 100.8,73.3 120.0,60.0 C139.2,46.7 180.0,41.7 210.0,40.0 C240.0,38.3 279.2,40.0 300.0,50.0 C320.8,60.0 331.7,81.7 335.0,100.0 C338.3,118.3 332.5,144.2 320.0,160.0 C307.5,175.8 286.7,189.2 260.0,195.0 C233.3,200.8 185.8,200.0 160.0,195.0 C134.2,190.0 115.8,177.5 105.0,165.0 C94.2,152.5 92.5,137.5 95.0,120.0 Z" fill="#0a0a9a" filter="url(#b8)"/><path d="M120.0,120.0 C122.8,108.0 130.0,87.7 145.0,78.0 C160.0,68.3 187.5,63.3 210.0,62.0 C232.5,60.7 265.0,62.0 280.0,70.0 C295.0,78.0 299.2,96.7 300.0,110.0 C300.8,123.3 295.0,139.7 285.0,150.0 C275.0,160.3 260.0,168.3 240.0,172.0 C220.0,175.7 183.7,175.7 165.0,172.0 C146.3,168.3 135.5,158.7 128.0,150.0 C120.5,141.3 117.2,132.0 120.0,120.0 Z" fill="#000068" filter="url(#b8)"/><path d="M-30.0,290.0 C-22.7,242.3 -4.5,253.0 14.0,244.0 C32.5,235.0 60.5,240.0 81.0,236.0 C101.5,232.0 118.3,223.7 137.0,220.0 C155.7,216.3 174.3,215.8 193.0,214.0 C211.7,212.2 232.2,212.7 249.0,209.0 C265.8,205.3 279.0,198.5 294.0,192.0 C309.0,185.5 324.2,175.3 339.0,170.0 C353.8,164.7 366.3,160.8 383.0,160.0 C399.7,159.2 416.2,158.3 439.0,165.0 C461.8,171.7 506.5,139.2 520.0,200.0 C533.5,260.8 611.7,475.0 520.0,530.0 C428.3,585.0 61.7,570.0 -30.0,530.0 C-121.7,490.0 -37.3,337.7 -30.0,290.0 Z" fill="#7484ea" filter="url(#b8)"/><path d="M-30.0,340.0 C-22.7,302.5 -1.0,316.3 14.0,305.0 C29.0,293.7 45.7,281.2 60.0,272.0 C74.3,262.8 87.2,257.0 100.0,250.0 C112.8,243.0 121.5,234.5 137.0,230.0 C152.5,225.5 174.3,225.0 193.0,223.0 C211.7,221.0 232.2,221.7 249.0,218.0 C265.8,214.3 279.0,207.3 294.0,201.0 C309.0,194.7 324.2,185.2 339.0,180.0 C353.8,174.8 366.3,170.3 383.0,170.0 C399.7,169.7 424.5,164.7 439.0,178.0 C453.5,191.3 456.5,229.7 470.0,250.0 C483.5,270.3 511.7,253.3 520.0,300.0 C528.3,346.7 611.7,491.7 520.0,530.0 C428.3,568.3 61.7,561.7 -30.0,530.0 C-121.7,498.3 -37.3,377.5 -30.0,340.0 Z" fill="#b8bef2" filter="url(#b8)"/><path d="M66.0,322.0 C67.7,300.3 80.2,276.0 92.0,262.0 C103.8,248.0 120.2,243.7 137.0,238.0 C153.8,232.3 174.3,230.5 193.0,228.0 C211.7,225.5 232.2,226.7 249.0,223.0 C265.8,219.3 279.0,212.2 294.0,206.0 C309.0,199.8 321.3,189.3 339.0,186.0 C356.7,182.7 383.2,178.3 400.0,186.0 C416.8,193.7 431.7,213.0 440.0,232.0 C448.3,251.0 451.3,272.3 450.0,300.0 C448.7,327.7 443.7,374.7 432.0,398.0 C420.3,421.3 410.3,429.7 380.0,440.0 C349.7,450.3 290.8,459.7 250.0,460.0 C209.2,460.3 163.0,453.3 135.0,442.0 C107.0,430.7 93.5,412.0 82.0,392.0 C70.5,372.0 64.3,343.7 66.0,322.0 Z" fill="#ffffff" filter="url(#b8)"/><path d="M-30.0,470.0 C-8.3,465.8 53.3,498.3 100.0,505.0 C146.7,511.7 200.0,510.8 250.0,510.0 C300.0,509.2 355.0,511.7 400.0,500.0 C445.0,488.3 500.0,435.0 520.0,440.0 C540.0,445.0 611.7,515.0 520.0,530.0 C428.3,545.0 61.7,540.0 -30.0,530.0 C-121.7,520.0 -51.7,474.2 -30.0,470.0 Z" fill="#c8c8f0" filter="url(#b10)"/><path d="M112.0,322.0 C112.7,302.0 115.3,275.3 130.0,262.0 C144.7,248.7 178.0,247.7 200.0,242.0 C222.0,236.3 240.3,233.0 262.0,228.0 C283.7,223.0 310.0,214.2 330.0,212.0 C350.0,209.8 369.0,208.7 382.0,215.0 C395.0,221.3 403.3,232.5 408.0,250.0 C412.7,267.5 413.0,295.3 410.0,320.0 C407.0,344.7 403.3,380.0 390.0,398.0 C376.7,416.0 353.3,421.7 330.0,428.0 C306.7,434.3 276.3,437.3 250.0,436.0 C223.7,434.7 192.7,429.0 172.0,420.0 C151.3,411.0 136.0,398.3 126.0,382.0 C116.0,365.7 111.3,342.0 112.0,322.0 Z" fill="#ff9a9a" filter="url(#b8)"/><path d="M128.0,325.0 C129.0,307.7 132.7,283.5 146.0,272.0 C159.3,260.5 188.0,260.7 208.0,256.0 C228.0,251.3 245.7,248.7 266.0,244.0 C286.3,239.3 312.0,230.0 330.0,228.0 C348.0,226.0 363.3,226.7 374.0,232.0 C384.7,237.3 390.7,245.3 394.0,260.0 C397.3,274.7 397.0,298.3 394.0,320.0 C391.0,341.7 388.0,374.3 376.0,390.0 C364.0,405.7 343.0,408.7 322.0,414.0 C301.0,419.3 273.7,423.0 250.0,422.0 C226.3,421.0 198.3,415.7 180.0,408.0 C161.7,400.3 148.7,389.8 140.0,376.0 C131.3,362.2 127.0,342.3 128.0,325.0 Z" fill="#f00000" filter="url(#b8)"/><path d="M165.0,330.0 C166.7,316.7 175.8,299.0 190.0,290.0 C204.2,281.0 228.3,279.7 250.0,276.0 C271.7,272.3 301.3,266.3 320.0,268.0 C338.7,269.7 354.0,274.8 362.0,286.0 C370.0,297.2 370.8,319.3 368.0,335.0 C365.2,350.7 358.0,370.0 345.0,380.0 C332.0,390.0 310.8,393.0 290.0,395.0 C269.2,397.0 238.3,396.2 220.0,392.0 C201.7,387.8 189.2,380.3 180.0,370.0 C170.8,359.7 163.3,343.3 165.0,330.0 Z" fill="#c80000" filter="url(#b8)"/><path d="M190.0,322.0 C194.5,312.0 206.7,305.3 225.0,300.0 C243.3,294.7 280.0,289.2 300.0,290.0 C320.0,290.8 337.5,295.0 345.0,305.0 C352.5,315.0 350.8,338.3 345.0,350.0 C339.2,361.7 327.5,370.0 310.0,375.0 C292.5,380.0 258.7,382.5 240.0,380.0 C221.3,377.5 206.3,369.7 198.0,360.0 C189.7,350.3 185.5,332.0 190.0,322.0 Z" fill="#9a0000" filter="url(#b6)"/><path d="M245.0,340.0 C245.8,334.2 252.5,325.3 260.0,322.0 C267.5,318.7 280.3,318.3 290.0,320.0 C299.7,321.7 314.3,326.2 318.0,332.0 C321.7,337.8 317.5,350.0 312.0,355.0 C306.5,360.0 294.5,361.7 285.0,362.0 C275.5,362.3 261.7,360.7 255.0,357.0 C248.3,353.3 244.2,345.8 245.0,340.0 Z" fill="#5a0000" filter="url(#b6)"/></g>
<circle cx="190" cy="65" r="7" fill="none" stroke="#202020" stroke-width="3" opacity="0.5"/>
<circle cx="248" cy="65" r="7" fill="none" stroke="#202020" stroke-width="3" opacity="0.5"/>
<circle cx="306" cy="65" r="7" fill="none" stroke="#202020" stroke-width="3" opacity="0.5"/>
<circle cx="190" cy="105" r="7" fill="none" stroke="#202020" stroke-width="3" opacity="0.5"/>
<circle cx="306" cy="105" r="7" fill="none" stroke="#202020" stroke-width="3" opacity="0.5"/>
<circle cx="130" cy="150" r="7" fill="none" stroke="#202020" stroke-width="3" opacity="0.5"/>
<circle cx="170" cy="150" r="7" fill="none" stroke="#202020" stroke-width="3" opacity="0.5"/>
<circle cx="210" cy="150" r="7" fill="none" stroke="#202020" stroke-width="3" opacity="0.5"/>
<circle cx="248" cy="150" r="7" fill="none" stroke="#202020" stroke-width="3" opacity="0.5"/>
<circle cx="288" cy="150" r="7" fill="none" stroke="#202020" stroke-width="3" opacity="0.5"/>
<circle cx="326" cy="150" r="7" fill="none" stroke="#202020" stroke-width="3" opacity="0.5"/>
<circle cx="366" cy="150" r="7" fill="none" stroke="#202020" stroke-width="3" opacity="0.5"/>
<circle cx="115" cy="198" r="7" fill="none" stroke="#202020" stroke-width="3" opacity="0.5"/>
<circle cx="160" cy="198" r="7" fill="none" stroke="#202020" stroke-width="3" opacity="0.5"/>
<circle cx="205" cy="198" r="7" fill="none" stroke="#202020" stroke-width="3" opacity="0.5"/>
<circle cx="248" cy="198" r="7" fill="none" stroke="#202020" stroke-width="3" opacity="0.5"/>
<circle cx="292" cy="198" r="7" fill="none" stroke="#202020" stroke-width="3" opacity="0.5"/>
<circle cx="338" cy="198" r="7" fill="none" stroke="#202020" stroke-width="3" opacity="0.5"/>
<circle cx="384" cy="198" r="7" fill="none" stroke="#202020" stroke-width="3" opacity="0.5"/>
<circle cx="67" cy="192" r="7" fill="none" stroke="#202020" stroke-width="3" opacity="0.5"/>
<circle cx="429" cy="192" r="7" fill="none" stroke="#202020" stroke-width="3" opacity="0.5"/>
<circle cx="65" cy="246" r="7" fill="none" stroke="#202020" stroke-width="3" opacity="0.5"/>
<circle cx="108" cy="246" r="7" fill="none" stroke="#202020" stroke-width="3" opacity="0.5"/>
<circle cx="155" cy="246" r="7" fill="none" stroke="#202020" stroke-width="3" opacity="0.5"/>
<circle cx="200" cy="246" r="7" fill="none" stroke="#202020" stroke-width="3" opacity="0.5"/>
<circle cx="248" cy="246" r="7" fill="none" stroke="#202020" stroke-width="3" opacity="0.5"/>
<circle cx="295" cy="246" r="7" fill="none" stroke="#202020" stroke-width="3" opacity="0.5"/>
<circle cx="340" cy="246" r="7" fill="none" stroke="#202020" stroke-width="3" opacity="0.5"/>
<circle cx="390" cy="246" r="7" fill="none" stroke="#202020" stroke-width="3" opacity="0.5"/>
<circle cx="437" cy="246" r="7" fill="none" stroke="#202020" stroke-width="3" opacity="0.5"/>
<circle cx="72" cy="299" r="7" fill="none" stroke="#202020" stroke-width="3" opacity="0.5"/>
<circle cx="115" cy="299" r="7" fill="none" stroke="#202020" stroke-width="3" opacity="0.5"/>
<circle cx="158" cy="299" r="7" fill="none" stroke="#202020" stroke-width="3" opacity="0.5"/>
<circle cx="205" cy="299" r="7" fill="none" stroke="#202020" stroke-width="3" opacity="0.5"/>
<circle cx="248" cy="299" r="7" fill="none" stroke="#202020" stroke-width="3" opacity="0.5"/>
<circle cx="292" cy="299" r="7" fill="none" stroke="#202020" stroke-width="3" opacity="0.5"/>
<circle cx="335" cy="299" r="7" fill="none" stroke="#202020" stroke-width="3" opacity="0.5"/>
<circle cx="380" cy="299" r="7" fill="none" stroke="#202020" stroke-width="3" opacity="0.5"/>
<circle cx="425" cy="299" r="7" fill="none" stroke="#202020" stroke-width="3" opacity="0.5"/>
<circle cx="135" cy="350" r="7" fill="none" stroke="#202020" stroke-width="3" opacity="0.5"/>
<circle cx="180" cy="350" r="7" fill="none" stroke="#202020" stroke-width="3" opacity="0.5"/>
<circle cx="215" cy="350" r="7" fill="none" stroke="#202020" stroke-width="3" opacity="0.5"/>
<circle cx="248" cy="350" r="7" fill="none" stroke="#202020" stroke-width="3" opacity="0.5"/>
<circle cx="285" cy="350" r="7" fill="none" stroke="#202020" stroke-width="3" opacity="0.5"/>
<circle cx="320" cy="350" r="7" fill="none" stroke="#202020" stroke-width="3" opacity="0.5"/>
<circle cx="360" cy="350" r="7" fill="none" stroke="#202020" stroke-width="3" opacity="0.5"/>
<circle cx="100" cy="355" r="7" fill="none" stroke="#202020" stroke-width="3" opacity="0.5"/>
<circle cx="398" cy="355" r="7" fill="none" stroke="#202020" stroke-width="3" opacity="0.5"/>
<circle cx="190" cy="390" r="7" fill="none" stroke="#202020" stroke-width="3" opacity="0.5"/>
<circle cx="248" cy="390" r="7" fill="none" stroke="#202020" stroke-width="3" opacity="0.5"/>
<circle cx="305" cy="390" r="7" fill="none" stroke="#202020" stroke-width="3" opacity="0.5"/>
<circle cx="140" cy="395" r="7" fill="none" stroke="#202020" stroke-width="3" opacity="0.5"/>
<circle cx="355" cy="395" r="7" fill="none" stroke="#202020" stroke-width="3" opacity="0.5"/>
<circle cx="190" cy="428" r="7" fill="none" stroke="#202020" stroke-width="3" opacity="0.5"/>
<circle cx="248" cy="428" r="7" fill="none" stroke="#202020" stroke-width="3" opacity="0.5"/>
<circle cx="305" cy="428" r="7" fill="none" stroke="#202020" stroke-width="3" opacity="0.5"/>
<circle cx="248" cy="472" r="7" fill="none" stroke="#202020" stroke-width="3" opacity="0.5"/>
</g>
<circle cx="266.20" cy="747.40" r="53.60" fill="none" stroke="#555" stroke-width="0.8"/>
<path d="M261.0,694.2 C261.6,682.2 270.8,682.2 271.4,694.2" fill="none" stroke="#707070" stroke-width="1.1"/>
<clipPath id="c3"><circle cx="249" cy="249" r="249"/></clipPath>
<g transform="translate(378.2,693.3) scale(0.21606)"><g clip-path="url(#c3)"><rect x="-30" y="-30" width="560" height="560" fill="#ee1a1a"/><path d="M330.0,90.0 C338.0,78.0 370.0,79.7 390.0,88.0 C410.0,96.3 434.7,121.3 450.0,140.0 C465.3,158.7 478.3,181.3 482.0,200.0 C485.7,218.7 482.3,245.0 472.0,252.0 C461.7,259.0 436.7,248.7 420.0,242.0 C403.3,235.3 385.0,225.7 372.0,212.0 C359.0,198.3 349.0,180.3 342.0,160.0 C335.0,139.7 322.0,102.0 330.0,90.0 Z" fill="#c00000" filter="url(#b8)"/><path d="M388.0,128.0 C393.7,125.0 416.7,137.7 428.0,148.0 C439.3,158.3 453.7,177.7 456.0,190.0 C458.3,202.3 449.7,220.0 442.0,222.0 C434.3,224.0 418.0,211.3 410.0,202.0 C402.0,192.7 397.7,178.3 394.0,166.0 C390.3,153.7 382.3,131.0 388.0,128.0 Z" fill="#6a0000" filter="url(#b6)"/><path d="M45.0,190.0 C48.3,180.0 76.7,170.8 85.0,175.0 C93.3,179.2 98.3,205.0 95.0,215.0 C91.7,225.0 73.3,239.2 65.0,235.0 C56.7,230.8 41.7,200.0 45.0,190.0 Z" fill="#c80000" filter="url(#b6)"/><path d="M58.0,290.0 C57.3,258.7 69.7,225.8 80.0,200.0 C90.3,174.2 100.0,153.0 120.0,135.0 C140.0,117.0 176.3,99.8 200.0,92.0 C223.7,84.2 242.0,86.0 262.0,88.0 C282.0,90.0 306.0,93.7 320.0,104.0 C334.0,114.3 337.3,134.7 346.0,150.0 C354.7,165.3 360.5,182.3 372.0,196.0 C383.5,209.7 403.7,214.7 415.0,232.0 C426.3,249.3 438.2,274.0 440.0,300.0 C441.8,326.0 436.3,363.3 426.0,388.0 C415.7,412.7 399.0,433.7 378.0,448.0 C357.0,462.3 326.3,469.0 300.0,474.0 C273.7,479.0 247.5,482.0 220.0,478.0 C192.5,474.0 157.7,465.0 135.0,450.0 C112.3,435.0 96.8,414.7 84.0,388.0 C71.2,361.3 58.7,321.3 58.0,290.0 Z" fill="#ff6a6a" filter="url(#b8)"/><path d="M70.0,290.0 C69.7,260.5 80.0,229.2 90.0,205.0 C100.0,180.8 111.7,162.2 130.0,145.0 C148.3,127.8 178.0,109.8 200.0,102.0 C222.0,94.2 242.0,95.7 262.0,98.0 C282.0,100.3 306.0,106.0 320.0,116.0 C334.0,126.0 337.3,143.7 346.0,158.0 C354.7,172.3 361.0,188.7 372.0,202.0 C383.0,215.3 402.0,221.7 412.0,238.0 C422.0,254.3 431.0,276.0 432.0,300.0 C433.0,324.0 428.0,358.7 418.0,382.0 C408.0,405.3 391.7,426.0 372.0,440.0 C352.3,454.0 325.3,461.0 300.0,466.0 C274.7,471.0 246.7,474.0 220.0,470.0 C193.3,466.0 161.3,456.7 140.0,442.0 C118.7,427.3 103.7,407.3 92.0,382.0 C80.3,356.7 70.3,319.5 70.0,290.0 Z" fill="#ffb4b4" filter="url(#b8)"/><path d="M84.0,292.0 C83.7,264.7 92.7,234.0 102.0,212.0 C111.3,190.0 122.8,174.0 140.0,160.0 C157.2,146.0 184.7,134.0 205.0,128.0 C225.3,122.0 244.2,122.7 262.0,124.0 C279.8,125.3 300.0,128.3 312.0,136.0 C324.0,143.7 325.7,157.3 334.0,170.0 C342.3,182.7 351.0,199.0 362.0,212.0 C373.0,225.0 390.7,233.0 400.0,248.0 C409.3,263.0 417.3,280.7 418.0,302.0 C418.7,323.3 413.7,354.7 404.0,376.0 C394.3,397.3 378.0,417.3 360.0,430.0 C342.0,442.7 319.0,447.7 296.0,452.0 C273.0,456.3 246.7,459.7 222.0,456.0 C197.3,452.3 167.7,443.3 148.0,430.0 C128.3,416.7 114.7,399.0 104.0,376.0 C93.3,353.0 84.3,319.3 84.0,292.0 Z" fill="#ffffff" filter="url(#b8)"/><path d="M92.0,320.0 C92.0,296.7 95.3,260.0 105.0,235.0 C114.7,210.0 125.8,181.5 150.0,170.0 C174.2,158.5 217.5,165.7 250.0,166.0 C282.5,166.3 321.7,163.8 345.0,172.0 C368.3,180.2 380.0,196.0 390.0,215.0 C400.0,234.0 404.7,260.2 405.0,286.0 C405.3,311.8 401.2,349.0 392.0,370.0 C382.8,391.0 373.7,403.0 350.0,412.0 C326.3,421.0 283.3,424.0 250.0,424.0 C216.7,424.0 174.2,420.2 150.0,412.0 C125.8,403.8 114.7,390.3 105.0,375.0 C95.3,359.7 92.0,343.3 92.0,320.0 Z" fill="#c4c4f6" filter="url(#b8)"/><path d="M108.0,320.0 C108.3,298.7 111.3,262.3 120.0,240.0 C128.7,217.7 138.3,196.0 160.0,186.0 C181.7,176.0 220.3,179.7 250.0,180.0 C279.7,180.3 316.7,180.5 338.0,188.0 C359.3,195.5 369.7,208.0 378.0,225.0 C386.3,242.0 388.0,267.5 388.0,290.0 C388.0,312.5 386.0,342.0 378.0,360.0 C370.0,378.0 361.3,389.7 340.0,398.0 C318.7,406.3 280.0,410.0 250.0,410.0 C220.0,410.0 182.0,405.0 160.0,398.0 C138.0,391.0 126.7,381.0 118.0,368.0 C109.3,355.0 107.7,341.3 108.0,320.0 Z" fill="#8888ec" filter="url(#b8)"/><path d="M125.0,300.0 C126.0,281.7 129.7,251.7 138.0,235.0 C146.3,218.3 156.3,206.8 175.0,200.0 C193.7,193.2 224.2,194.0 250.0,194.0 C275.8,194.0 310.8,193.2 330.0,200.0 C349.2,206.8 358.3,218.3 365.0,235.0 C371.7,251.7 370.8,281.7 370.0,300.0 C369.2,318.3 368.3,332.5 360.0,345.0 C351.7,357.5 338.3,368.3 320.0,375.0 C301.7,381.7 275.0,384.5 250.0,385.0 C225.0,385.5 189.7,384.7 170.0,378.0 C150.3,371.3 139.5,358.0 132.0,345.0 C124.5,332.0 124.0,318.3 125.0,300.0 Z" fill="#6262e0" filter="url(#b8)"/><path d="M148.0,290.0 C149.3,273.7 152.2,246.2 160.0,232.0 C167.8,217.8 178.3,210.7 195.0,205.0 C211.7,199.3 236.7,198.0 260.0,198.0 C283.3,198.0 318.7,197.2 335.0,205.0 C351.3,212.8 354.2,225.8 358.0,245.0 C361.8,264.2 362.7,302.2 358.0,320.0 C353.3,337.8 348.0,345.3 330.0,352.0 C312.0,358.7 275.0,359.3 250.0,360.0 C225.0,360.7 196.3,361.0 180.0,356.0 C163.7,351.0 157.3,341.0 152.0,330.0 C146.7,319.0 146.7,306.3 148.0,290.0 Z" fill="#3c3cd4" filter="url(#b6)"/><path d="M252.0,272.0 L280.0,237.0 L336.0,209.0 L353.0,230.0 L357.0,335.0 L315.0,342.0 L259.0,314.0 Z" fill="#0e0ec2" filter="url(#b6)"/><path d="M154.0,342.0 L182.0,307.0 L238.0,300.0 L252.0,314.0 L224.0,356.0 L161.0,356.0 Z" fill="#0e0ec2" filter="url(#b6)"/><path d="M196.0,240.0 L210.0,240.0 L210.0,262.0 L196.0,262.0 Z" fill="#000090" filter="url(#b6)"/></g>
<circle cx="190" cy="65" r="7" fill="none" stroke="#202020" stroke-width="3" opacity="0.5"/>
<circle cx="248" cy="65" r="7" fill="none" stroke="#202020" stroke-width="3" opacity="0.5"/>
<circle cx="306" cy="65" r="7" fill="none" stroke="#202020" stroke-width="3" opacity="0.5"/>
<circle cx="190" cy="105" r="7" fill="none" stroke="#202020" stroke-width="3" opacity="0.5"/>
<circle cx="306" cy="105" r="7" fill="none" stroke="#202020" stroke-width="3" opacity="0.5"/>
<circle cx="130" cy="150" r="7" fill="none" stroke="#202020" stroke-width="3" opacity="0.5"/>
<circle cx="170" cy="150" r="7" fill="none" stroke="#202020" stroke-width="3" opacity="0.5"/>
<circle cx="210" cy="150" r="7" fill="none" stroke="#202020" stroke-width="3" opacity="0.5"/>
<circle cx="248" cy="150" r="7" fill="none" stroke="#202020" stroke-width="3" opacity="0.5"/>
<circle cx="288" cy="150" r="7" fill="none" stroke="#202020" stroke-width="3" opacity="0.5"/>
<circle cx="326" cy="150" r="7" fill="none" stroke="#202020" stroke-width="3" opacity="0.5"/>
<circle cx="366" cy="150" r="7" fill="none" stroke="#202020" stroke-width="3" opacity="0.5"/>
<circle cx="115" cy="198" r="7" fill="none" stroke="#202020" stroke-width="3" opacity="0.5"/>
<circle cx="160" cy="198" r="7" fill="none" stroke="#202020" stroke-width="3" opacity="0.5"/>
<circle cx="205" cy="198" r="7" fill="none" stroke="#202020" stroke-width="3" opacity="0.5"/>
<circle cx="248" cy="198" r="7" fill="none" stroke="#202020" stroke-width="3" opacity="0.5"/>
<circle cx="292" cy="198" r="7" fill="none" stroke="#202020" stroke-width="3" opacity="0.5"/>
<circle cx="338" cy="198" r="7" fill="none" stroke="#202020" stroke-width="3" opacity="0.5"/>
<circle cx="384" cy="198" r="7" fill="none" stroke="#202020" stroke-width="3" opacity="0.5"/>
<circle cx="67" cy="192" r="7" fill="none" stroke="#202020" stroke-width="3" opacity="0.5"/>
<circle cx="429" cy="192" r="7" fill="none" stroke="#202020" stroke-width="3" opacity="0.5"/>
<circle cx="65" cy="246" r="7" fill="none" stroke="#202020" stroke-width="3" opacity="0.5"/>
<circle cx="108" cy="246" r="7" fill="none" stroke="#202020" stroke-width="3" opacity="0.5"/>
<circle cx="155" cy="246" r="7" fill="none" stroke="#202020" stroke-width="3" opacity="0.5"/>
<circle cx="200" cy="246" r="7" fill="none" stroke="#202020" stroke-width="3" opacity="0.5"/>
<circle cx="248" cy="246" r="7" fill="none" stroke="#202020" stroke-width="3" opacity="0.5"/>
<circle cx="295" cy="246" r="7" fill="none" stroke="#202020" stroke-width="3" opacity="0.5"/>
<circle cx="340" cy="246" r="7" fill="none" stroke="#202020" stroke-width="3" opacity="0.5"/>
<circle cx="390" cy="246" r="7" fill="none" stroke="#202020" stroke-width="3" opacity="0.5"/>
<circle cx="437" cy="246" r="7" fill="none" stroke="#202020" stroke-width="3" opacity="0.5"/>
<circle cx="72" cy="299" r="7" fill="none" stroke="#202020" stroke-width="3" opacity="0.5"/>
<circle cx="115" cy="299" r="7" fill="none" stroke="#202020" stroke-width="3" opacity="0.5"/>
<circle cx="158" cy="299" r="7" fill="none" stroke="#202020" stroke-width="3" opacity="0.5"/>
<circle cx="205" cy="299" r="7" fill="none" stroke="#202020" stroke-width="3" opacity="0.5"/>
<circle cx="248" cy="299" r="7" fill="none" stroke="#202020" stroke-width="3" opacity="0.5"/>
<circle cx="292" cy="299" r="7" fill="none" stroke="#202020" stroke-width="3" opacity="0.5"/>
<circle cx="335" cy="299" r="7" fill="none" stroke="#202020" stroke-width="3" opacity="0.5"/>
<circle cx="380" cy="299" r="7" fill="none" stroke="#202020" stroke-width="3" opacity="0.5"/>
<circle cx="425" cy="299" r="7" fill="none" stroke="#202020" stroke-width="3" opacity="0.5"/>
<circle cx="135" cy="350" r="7" fill="none" stroke="#202020" stroke-width="3" opacity="0.5"/>
<circle cx="180" cy="350" r="7" fill="none" stroke="#202020" stroke-width="3" opacity="0.5"/>
<circle cx="215" cy="350" r="7" fill="none" stroke="#202020" stroke-width="3" opacity="0.5"/>
<circle cx="248" cy="350" r="7" fill="none" stroke="#202020" stroke-width="3" opacity="0.5"/>
<circle cx="285" cy="350" r="7" fill="none" stroke="#202020" stroke-width="3" opacity="0.5"/>
<circle cx="320" cy="350" r="7" fill="none" stroke="#202020" stroke-width="3" opacity="0.5"/>
<circle cx="360" cy="350" r="7" fill="none" stroke="#202020" stroke-width="3" opacity="0.5"/>
<circle cx="100" cy="355" r="7" fill="none" stroke="#202020" stroke-width="3" opacity="0.5"/>
<circle cx="398" cy="355" r="7" fill="none" stroke="#202020" stroke-width="3" opacity="0.5"/>
<circle cx="190" cy="390" r="7" fill="none" stroke="#202020" stroke-width="3" opacity="0.5"/>
<circle cx="248" cy="390" r="7" fill="none" stroke="#202020" stroke-width="3" opacity="0.5"/>
<circle cx="305" cy="390" r="7" fill="none" stroke="#202020" stroke-width="3" opacity="0.5"/>
<circle cx="140" cy="395" r="7" fill="none" stroke="#202020" stroke-width="3" opacity="0.5"/>
<circle cx="355" cy="395" r="7" fill="none" stroke="#202020" stroke-width="3" opacity="0.5"/>
<circle cx="190" cy="428" r="7" fill="none" stroke="#202020" stroke-width="3" opacity="0.5"/>
<circle cx="248" cy="428" r="7" fill="none" stroke="#202020" stroke-width="3" opacity="0.5"/>
<circle cx="305" cy="428" r="7" fill="none" stroke="#202020" stroke-width="3" opacity="0.5"/>
<circle cx="248" cy="472" r="7" fill="none" stroke="#202020" stroke-width="3" opacity="0.5"/>
</g>
<circle cx="432.00" cy="747.10" r="53.80" fill="none" stroke="#555" stroke-width="0.8"/>
<path d="M426.8,693.7 C427.4,681.7 436.6,681.7 437.2,693.7" fill="none" stroke="#707070" stroke-width="1.1"/>
<text x="98.8" y="823.2" text-anchor="middle" font-size="14" font-family="Liberation Sans, sans-serif" fill="#111" textLength="27" lengthAdjust="spacingAndGlyphs">CRN</text>
<text x="267" y="824.6" text-anchor="middle" font-size="14" font-family="Liberation Sans, sans-serif" fill="#111" textLength="26" lengthAdjust="spacingAndGlyphs">ERN</text>
<text x="432.5" y="821.8" text-anchor="middle" font-size="14" font-family="Liberation Sans, sans-serif" fill="#111" textLength="59" lengthAdjust="spacingAndGlyphs">ERN-CRN</text>
<rect x="133.80" y="834.3" width="6.50" height="8.6" fill="#00003c"/><rect x="140.00" y="834.3" width="6.50" height="8.6" fill="#00008c"/><rect x="146.20" y="834.3" width="6.50" height="8.6" fill="#0000d2"/><rect x="152.40" y="834.3" width="6.50" height="8.6" fill="#1414ff"/><rect x="158.60" y="834.3" width="6.50" height="8.6" fill="#5050ff"/><rect x="164.80" y="834.3" width="6.50" height="8.6" fill="#8c8cff"/><rect x="171.00" y="834.3" width="6.50" height="8.6" fill="#c8c8ff"/>
<rect x="189.60" y="834.3" width="6.50" height="8.6" fill="#ffc8c8"/><rect x="195.80" y="834.3" width="6.50" height="8.6" fill="#ff8c8c"/><rect x="202.00" y="834.3" width="6.50" height="8.6" fill="#f02832"/><rect x="208.20" y="834.3" width="6.50" height="8.6" fill="#ff0000"/><rect x="214.40" y="834.3" width="6.50" height="8.6" fill="#dc0000"/><rect x="220.60" y="834.3" width="6.50" height="8.6" fill="#a00014"/><rect x="226.80" y="834.3" width="6.50" height="8.6" fill="#5a000a"/>
<rect x="383.00" y="834.7" width="6.44" height="8.4" fill="#00003c"/><rect x="389.14" y="834.7" width="6.44" height="8.4" fill="#00008c"/><rect x="395.29" y="834.7" width="6.44" height="8.4" fill="#0000d2"/><rect x="401.43" y="834.7" width="6.44" height="8.4" fill="#1414ff"/><rect x="407.57" y="834.7" width="6.44" height="8.4" fill="#5050ff"/><rect x="413.71" y="834.7" width="6.44" height="8.4" fill="#8c8cff"/><rect x="419.86" y="834.7" width="6.44" height="8.4" fill="#c8c8ff"/>
<rect x="439.00" y="834.7" width="6.44" height="8.4" fill="#ffc8c8"/><rect x="445.14" y="834.7" width="6.44" height="8.4" fill="#ff8c8c"/><rect x="451.29" y="834.7" width="6.44" height="8.4" fill="#f02832"/><rect x="457.43" y="834.7" width="6.44" height="8.4" fill="#ff0000"/><rect x="463.57" y="834.7" width="6.44" height="8.4" fill="#dc0000"/><rect x="469.71" y="834.7" width="6.44" height="8.4" fill="#a00014"/><rect x="475.86" y="834.7" width="6.44" height="8.4" fill="#5a000a"/>
<text x="0" y="0" font-size="14.5" font-family="Liberation Sans, sans-serif" fill="#111"></text>
<text x="233.9" y="859.3" text-anchor="middle" font-size="14.5" font-family="Liberation Sans, sans-serif" fill="#111" textLength="38" lengthAdjust="spacingAndGlyphs">4.5µV</text>
<text x="135.6" y="859.6" text-anchor="middle" font-size="14.5" font-family="Liberation Sans, sans-serif" fill="#111" textLength="43.1" lengthAdjust="spacingAndGlyphs">-4.5µV</text>
<text x="388.9" y="857.3" text-anchor="middle" font-size="14.5" font-family="Liberation Sans, sans-serif" fill="#111" textLength="26.4" lengthAdjust="spacingAndGlyphs">t=-7</text>
<text x="477.7" y="857.3" text-anchor="middle" font-size="14.5" font-family="Liberation Sans, sans-serif" fill="#111" textLength="20" lengthAdjust="spacingAndGlyphs">t=7</text>
</svg></body></html>
